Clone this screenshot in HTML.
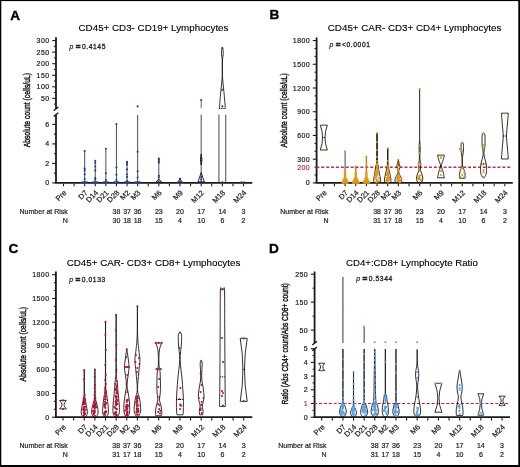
<!DOCTYPE html>
<html><head><meta charset="utf-8"><style>
html,body{margin:0;padding:0;background:#fff;}
body{width:520px;height:467px;overflow:hidden;position:relative;}
svg{position:absolute;left:0;top:0;display:block;will-change:transform;}
</style></head><body>
<svg width="520" height="467" viewBox="0 0 520 467" font-family='"Liberation Sans", sans-serif'>
<rect x="0" y="0" width="520" height="467" fill="#000"/>
<rect x="1.3" y="1.1" width="517.0" height="463.9" fill="#fff"/>
<text x="10.2" y="19.6" font-size="13.6" font-weight="bold" fill="#000" stroke="#000" stroke-width="0.35">A</text>
<text x="153.5" y="31.4" font-size="9.8" text-anchor="middle" fill="#000" stroke="#000" stroke-width="0.2" font-weight="normal" style="stroke-width:0.12px">CD45+ CD3- CD19+ Lymphocytes</text>
<text transform="translate(30.1,110.15) rotate(-90) scale(0.695,1)" font-size="9.8" text-anchor="middle" fill="#111" stroke="#111" stroke-width="0.42">Absolute count (cells/uL)</text>
<line x1="56" y1="37.2" x2="56" y2="108.8" stroke="#1a1a1a" stroke-width="1.8" />
<line x1="52.2" y1="98.35" x2="56" y2="98.35" stroke="#1a1a1a" stroke-width="1.1" />
<text x="49.6" y="100.85" font-size="7" text-anchor="end" fill="#222" stroke="#222" stroke-width="0.2" font-weight="normal" letter-spacing="0.45">50</text>
<line x1="52.2" y1="86.8" x2="56" y2="86.8" stroke="#1a1a1a" stroke-width="1.1" />
<text x="49.6" y="89.3" font-size="7" text-anchor="end" fill="#222" stroke="#222" stroke-width="0.2" font-weight="normal" letter-spacing="0.45">100</text>
<line x1="52.2" y1="75.25" x2="56" y2="75.25" stroke="#1a1a1a" stroke-width="1.1" />
<text x="49.6" y="77.75" font-size="7" text-anchor="end" fill="#222" stroke="#222" stroke-width="0.2" font-weight="normal" letter-spacing="0.45">150</text>
<line x1="52.2" y1="63.7" x2="56" y2="63.7" stroke="#1a1a1a" stroke-width="1.1" />
<text x="49.6" y="66.2" font-size="7" text-anchor="end" fill="#222" stroke="#222" stroke-width="0.2" font-weight="normal" letter-spacing="0.45">200</text>
<line x1="52.2" y1="52.15" x2="56" y2="52.15" stroke="#1a1a1a" stroke-width="1.1" />
<text x="49.6" y="54.65" font-size="7" text-anchor="end" fill="#222" stroke="#222" stroke-width="0.2" font-weight="normal" letter-spacing="0.45">250</text>
<line x1="52.2" y1="40.6" x2="56" y2="40.6" stroke="#1a1a1a" stroke-width="1.1" />
<text x="49.6" y="43.1" font-size="7" text-anchor="end" fill="#222" stroke="#222" stroke-width="0.2" font-weight="normal" letter-spacing="0.45">300</text>
<line x1="53.9" y1="104.12" x2="56" y2="104.12" stroke="#1a1a1a" stroke-width="1.05" />
<line x1="53.9" y1="92.58" x2="56" y2="92.58" stroke="#1a1a1a" stroke-width="1.05" />
<line x1="53.9" y1="81.03" x2="56" y2="81.03" stroke="#1a1a1a" stroke-width="1.05" />
<line x1="53.9" y1="69.47" x2="56" y2="69.47" stroke="#1a1a1a" stroke-width="1.05" />
<line x1="53.9" y1="57.92" x2="56" y2="57.92" stroke="#1a1a1a" stroke-width="1.05" />
<line x1="53.9" y1="46.38" x2="56" y2="46.38" stroke="#1a1a1a" stroke-width="1.05" />
<line x1="56" y1="114.7" x2="56" y2="182.9" stroke="#1a1a1a" stroke-width="1.8" />
<line x1="52.2" y1="182.9" x2="56" y2="182.9" stroke="#1a1a1a" stroke-width="1.1" />
<text x="49.6" y="185.4" font-size="7" text-anchor="end" fill="#222" stroke="#222" stroke-width="0.2" font-weight="normal" letter-spacing="0.45">0</text>
<line x1="52.2" y1="163.4" x2="56" y2="163.4" stroke="#1a1a1a" stroke-width="1.1" />
<text x="49.6" y="165.9" font-size="7" text-anchor="end" fill="#222" stroke="#222" stroke-width="0.2" font-weight="normal" letter-spacing="0.45">2</text>
<line x1="52.2" y1="143.9" x2="56" y2="143.9" stroke="#1a1a1a" stroke-width="1.1" />
<text x="49.6" y="146.4" font-size="7" text-anchor="end" fill="#222" stroke="#222" stroke-width="0.2" font-weight="normal" letter-spacing="0.45">4</text>
<line x1="52.2" y1="124.4" x2="56" y2="124.4" stroke="#1a1a1a" stroke-width="1.1" />
<text x="49.6" y="126.9" font-size="7" text-anchor="end" fill="#222" stroke="#222" stroke-width="0.2" font-weight="normal" letter-spacing="0.45">6</text>
<line x1="53.9" y1="173.15" x2="56" y2="173.15" stroke="#1a1a1a" stroke-width="1.05" />
<line x1="53.9" y1="153.65" x2="56" y2="153.65" stroke="#1a1a1a" stroke-width="1.05" />
<line x1="53.9" y1="134.15" x2="56" y2="134.15" stroke="#1a1a1a" stroke-width="1.05" />
<path d="M53.7,110.7 L58.3,106.9" stroke="#111" stroke-width="1.25"/>
<path d="M53.7,116.6 L58.3,112.8" stroke="#111" stroke-width="1.25"/>
<line x1="55.1" y1="182.9" x2="252.3" y2="182.9" stroke="#1a1a1a" stroke-width="1.8" />
<line x1="63.5" y1="183.7" x2="63.5" y2="186.3" stroke="#1a1a1a" stroke-width="1.1" />
<text transform="translate(66.9,193.2) rotate(-45)" font-size="7.5" text-anchor="end" fill="#222" stroke="#222" stroke-width="0.2" >Pre</text>
<line x1="74.09" y1="183.7" x2="74.09" y2="186.3" stroke="#1a1a1a" stroke-width="1.1" />
<line x1="84.68" y1="183.7" x2="84.68" y2="186.3" stroke="#1a1a1a" stroke-width="1.1" />
<text transform="translate(88.08,193.2) rotate(-45)" font-size="7.5" text-anchor="end" fill="#222" stroke="#222" stroke-width="0.2" >D7</text>
<line x1="95.27" y1="183.7" x2="95.27" y2="186.3" stroke="#1a1a1a" stroke-width="1.1" />
<text transform="translate(98.67,193.2) rotate(-45)" font-size="7.5" text-anchor="end" fill="#222" stroke="#222" stroke-width="0.2" >D14</text>
<line x1="105.86" y1="183.7" x2="105.86" y2="186.3" stroke="#1a1a1a" stroke-width="1.1" />
<text transform="translate(109.26,193.2) rotate(-45)" font-size="7.5" text-anchor="end" fill="#222" stroke="#222" stroke-width="0.2" >D21</text>
<line x1="116.45" y1="183.7" x2="116.45" y2="186.3" stroke="#1a1a1a" stroke-width="1.1" />
<text transform="translate(119.85,193.2) rotate(-45)" font-size="7.5" text-anchor="end" fill="#222" stroke="#222" stroke-width="0.2" >D28</text>
<line x1="127.04" y1="183.7" x2="127.04" y2="186.3" stroke="#1a1a1a" stroke-width="1.1" />
<text transform="translate(130.44,193.2) rotate(-45)" font-size="7.5" text-anchor="end" fill="#222" stroke="#222" stroke-width="0.2" >M2</text>
<line x1="137.63" y1="183.7" x2="137.63" y2="186.3" stroke="#1a1a1a" stroke-width="1.1" />
<text transform="translate(141.03,193.2) rotate(-45)" font-size="7.5" text-anchor="end" fill="#222" stroke="#222" stroke-width="0.2" >M3</text>
<line x1="148.22" y1="183.7" x2="148.22" y2="186.3" stroke="#1a1a1a" stroke-width="1.1" />
<line x1="158.81" y1="183.7" x2="158.81" y2="186.3" stroke="#1a1a1a" stroke-width="1.1" />
<text transform="translate(162.21,193.2) rotate(-45)" font-size="7.5" text-anchor="end" fill="#222" stroke="#222" stroke-width="0.2" >M6</text>
<line x1="169.4" y1="183.7" x2="169.4" y2="186.3" stroke="#1a1a1a" stroke-width="1.1" />
<line x1="179.99" y1="183.7" x2="179.99" y2="186.3" stroke="#1a1a1a" stroke-width="1.1" />
<text transform="translate(183.39,193.2) rotate(-45)" font-size="7.5" text-anchor="end" fill="#222" stroke="#222" stroke-width="0.2" >M9</text>
<line x1="190.58" y1="183.7" x2="190.58" y2="186.3" stroke="#1a1a1a" stroke-width="1.1" />
<line x1="201.17" y1="183.7" x2="201.17" y2="186.3" stroke="#1a1a1a" stroke-width="1.1" />
<text transform="translate(204.57,193.2) rotate(-45)" font-size="7.5" text-anchor="end" fill="#222" stroke="#222" stroke-width="0.2" >M12</text>
<line x1="211.76" y1="183.7" x2="211.76" y2="186.3" stroke="#1a1a1a" stroke-width="1.1" />
<line x1="222.35" y1="183.7" x2="222.35" y2="186.3" stroke="#1a1a1a" stroke-width="1.1" />
<text transform="translate(225.75,193.2) rotate(-45)" font-size="7.5" text-anchor="end" fill="#222" stroke="#222" stroke-width="0.2" >M18</text>
<line x1="232.94" y1="183.7" x2="232.94" y2="186.3" stroke="#1a1a1a" stroke-width="1.1" />
<line x1="243.53" y1="183.7" x2="243.53" y2="186.3" stroke="#1a1a1a" stroke-width="1.1" />
<text transform="translate(246.93,193.2) rotate(-45)" font-size="7.5" text-anchor="end" fill="#222" stroke="#222" stroke-width="0.2" >M24</text>
<text x="67.8" y="214.2" font-size="7" text-anchor="end" fill="#222" stroke="#222" stroke-width="0.2" font-weight="normal" >Number at Risk</text>
<text x="67.8" y="223.2" font-size="7" text-anchor="end" fill="#222" stroke="#222" stroke-width="0.2" font-weight="normal" >N</text>
<text x="116.45" y="214.2" font-size="7" text-anchor="middle" fill="#222" stroke="#222" stroke-width="0.2" font-weight="normal" >38</text>
<text x="116.45" y="223.2" font-size="7" text-anchor="middle" fill="#222" stroke="#222" stroke-width="0.2" font-weight="normal" >30</text>
<text x="127.04" y="214.2" font-size="7" text-anchor="middle" fill="#222" stroke="#222" stroke-width="0.2" font-weight="normal" >37</text>
<text x="127.04" y="223.2" font-size="7" text-anchor="middle" fill="#222" stroke="#222" stroke-width="0.2" font-weight="normal" >18</text>
<text x="137.63" y="214.2" font-size="7" text-anchor="middle" fill="#222" stroke="#222" stroke-width="0.2" font-weight="normal" >36</text>
<text x="137.63" y="223.2" font-size="7" text-anchor="middle" fill="#222" stroke="#222" stroke-width="0.2" font-weight="normal" >18</text>
<text x="158.81" y="214.2" font-size="7" text-anchor="middle" fill="#222" stroke="#222" stroke-width="0.2" font-weight="normal" >23</text>
<text x="158.81" y="223.2" font-size="7" text-anchor="middle" fill="#222" stroke="#222" stroke-width="0.2" font-weight="normal" >15</text>
<text x="179.99" y="214.2" font-size="7" text-anchor="middle" fill="#222" stroke="#222" stroke-width="0.2" font-weight="normal" >20</text>
<text x="179.99" y="223.2" font-size="7" text-anchor="middle" fill="#222" stroke="#222" stroke-width="0.2" font-weight="normal" >4</text>
<text x="201.17" y="214.2" font-size="7" text-anchor="middle" fill="#222" stroke="#222" stroke-width="0.2" font-weight="normal" >17</text>
<text x="201.17" y="223.2" font-size="7" text-anchor="middle" fill="#222" stroke="#222" stroke-width="0.2" font-weight="normal" >10</text>
<text x="222.35" y="214.2" font-size="7" text-anchor="middle" fill="#222" stroke="#222" stroke-width="0.2" font-weight="normal" >14</text>
<text x="222.35" y="223.2" font-size="7" text-anchor="middle" fill="#222" stroke="#222" stroke-width="0.2" font-weight="normal" >6</text>
<text x="243.53" y="214.2" font-size="7" text-anchor="middle" fill="#222" stroke="#222" stroke-width="0.2" font-weight="normal" >3</text>
<text x="243.53" y="223.2" font-size="7" text-anchor="middle" fill="#222" stroke="#222" stroke-width="0.2" font-weight="normal" >2</text>
<text x="69.4" y="49" font-size="6.8" fill="#222" stroke="#222" stroke-width="0.2"><tspan font-style="italic">p</tspan><tspan dx="2.6" font-size="8.2" stroke-width="0.75">=</tspan><tspan dx="1.3" font-size="6.7" letter-spacing="0.62" stroke-width="0.3">0.4145</tspan></text>
<line x1="84.68" y1="151.1" x2="84.68" y2="182.9" stroke="#444" stroke-width="0.95" />
<circle cx="84.68" cy="151.1" r="1.05" fill="#1d3f8f"/>
<circle cx="84.68" cy="168.5" r="1.05" fill="#1d3f8f"/>
<circle cx="84.68" cy="170.4" r="1.05" fill="#1d3f8f"/>
<circle cx="84.68" cy="174.2" r="1.05" fill="#1d3f8f"/>
<circle cx="84.68" cy="179" r="1.05" fill="#1d3f8f"/>
<circle cx="82.58" cy="182.3" r="1.05" fill="#1d3f8f"/>
<circle cx="83.98" cy="182.3" r="1.05" fill="#1d3f8f"/>
<circle cx="85.38" cy="182.3" r="1.05" fill="#1d3f8f"/>
<circle cx="86.78" cy="182.3" r="1.05" fill="#1d3f8f"/>
<line x1="95.27" y1="160.7" x2="95.27" y2="182.9" stroke="#444" stroke-width="0.95" />
<circle cx="95.27" cy="160.7" r="1.05" fill="#1d3f8f"/>
<circle cx="95.27" cy="162.7" r="1.05" fill="#1d3f8f"/>
<circle cx="95.27" cy="166.5" r="1.05" fill="#1d3f8f"/>
<circle cx="95.27" cy="170.4" r="1.05" fill="#1d3f8f"/>
<circle cx="95.27" cy="178.1" r="1.05" fill="#1d3f8f"/>
<circle cx="95.27" cy="179.4" r="1.05" fill="#1d3f8f"/>
<circle cx="93.17" cy="182.3" r="1.05" fill="#1d3f8f"/>
<circle cx="94.57" cy="182.3" r="1.05" fill="#1d3f8f"/>
<circle cx="95.97" cy="182.3" r="1.05" fill="#1d3f8f"/>
<circle cx="97.37" cy="182.3" r="1.05" fill="#1d3f8f"/>
<line x1="105.86" y1="148.8" x2="105.86" y2="182.9" stroke="#444" stroke-width="0.95" />
<circle cx="105.86" cy="148.8" r="1.05" fill="#1d3f8f"/>
<circle cx="105.86" cy="173.3" r="1.05" fill="#1d3f8f"/>
<circle cx="105.86" cy="180" r="1.05" fill="#1d3f8f"/>
<circle cx="103.76" cy="182.3" r="1.05" fill="#1d3f8f"/>
<circle cx="105.16" cy="182.3" r="1.05" fill="#1d3f8f"/>
<circle cx="106.56" cy="182.3" r="1.05" fill="#1d3f8f"/>
<circle cx="107.96" cy="182.3" r="1.05" fill="#1d3f8f"/>
<line x1="116.45" y1="124.1" x2="116.45" y2="182.9" stroke="#444" stroke-width="0.95" />
<circle cx="116.45" cy="124.1" r="1.05" fill="#1d3f8f"/>
<circle cx="116.45" cy="167.5" r="1.05" fill="#1d3f8f"/>
<circle cx="116.45" cy="174.8" r="1.05" fill="#1d3f8f"/>
<circle cx="116.45" cy="180" r="1.05" fill="#1d3f8f"/>
<circle cx="114.35" cy="182.3" r="1.05" fill="#1d3f8f"/>
<circle cx="115.75" cy="182.3" r="1.05" fill="#1d3f8f"/>
<circle cx="117.15" cy="182.3" r="1.05" fill="#1d3f8f"/>
<circle cx="118.55" cy="182.3" r="1.05" fill="#1d3f8f"/>
<line x1="127.04" y1="161.7" x2="127.04" y2="182.9" stroke="#444" stroke-width="0.95" />
<circle cx="127.04" cy="161.7" r="1.05" fill="#1d3f8f"/>
<circle cx="127.04" cy="162.7" r="1.05" fill="#1d3f8f"/>
<circle cx="127.04" cy="164.6" r="1.05" fill="#1d3f8f"/>
<circle cx="127.04" cy="169.4" r="1.05" fill="#1d3f8f"/>
<circle cx="127.04" cy="174.2" r="1.05" fill="#1d3f8f"/>
<circle cx="127.04" cy="177.1" r="1.05" fill="#1d3f8f"/>
<circle cx="127.04" cy="181" r="1.05" fill="#1d3f8f"/>
<circle cx="124.94" cy="182.3" r="1.05" fill="#1d3f8f"/>
<circle cx="126.34" cy="182.3" r="1.05" fill="#1d3f8f"/>
<circle cx="127.74" cy="182.3" r="1.05" fill="#1d3f8f"/>
<circle cx="129.14" cy="182.3" r="1.05" fill="#1d3f8f"/>
<line x1="137.63" y1="115" x2="137.63" y2="182.9" stroke="#444" stroke-width="0.95" />
<circle cx="137.63" cy="151.7" r="1.05" fill="#1d3f8f"/>
<circle cx="137.63" cy="171.3" r="1.05" fill="#1d3f8f"/>
<circle cx="137.63" cy="177.5" r="1.05" fill="#1d3f8f"/>
<circle cx="135.53" cy="182.3" r="1.05" fill="#1d3f8f"/>
<circle cx="136.93" cy="182.3" r="1.05" fill="#1d3f8f"/>
<circle cx="138.33" cy="182.3" r="1.05" fill="#1d3f8f"/>
<circle cx="139.73" cy="182.3" r="1.05" fill="#1d3f8f"/>
<line x1="137.63" y1="106.2" x2="137.63" y2="107.5" stroke="#555" stroke-width="0.9" />
<circle cx="137.63" cy="106.2" r="1.05" fill="#1d3f8f"/>
<line x1="158.81" y1="158.5" x2="158.81" y2="182.9" stroke="#444" stroke-width="0.95" />
<circle cx="158.81" cy="158.5" r="1.05" fill="#1d3f8f"/>
<circle cx="158.81" cy="159.8" r="1.05" fill="#1d3f8f"/>
<circle cx="158.81" cy="161.2" r="1.05" fill="#1d3f8f"/>
<circle cx="158.81" cy="162.6" r="1.05" fill="#1d3f8f"/>
<circle cx="158.81" cy="175.8" r="1.05" fill="#1d3f8f"/>
<circle cx="158.81" cy="177.3" r="1.05" fill="#1d3f8f"/>
<circle cx="156.71" cy="182.3" r="1.05" fill="#1d3f8f"/>
<circle cx="158.11" cy="182.3" r="1.05" fill="#1d3f8f"/>
<circle cx="159.51" cy="182.3" r="1.05" fill="#1d3f8f"/>
<circle cx="160.91" cy="182.3" r="1.05" fill="#1d3f8f"/>
<path d="M158.81,179 L162.01,182.6 L155.61,182.6 Z" fill="none" stroke="#1a1a1a" stroke-width="0.9" stroke-linejoin="round"/>
<line x1="179.99" y1="178.7" x2="179.99" y2="182.9" stroke="#444" stroke-width="0.95" />
<circle cx="179.99" cy="178.7" r="1.05" fill="#1d3f8f"/>
<circle cx="177.89" cy="182.3" r="1.05" fill="#1d3f8f"/>
<circle cx="179.29" cy="182.3" r="1.05" fill="#1d3f8f"/>
<circle cx="180.69" cy="182.3" r="1.05" fill="#1d3f8f"/>
<circle cx="182.09" cy="182.3" r="1.05" fill="#1d3f8f"/>
<path d="M179.99,178.5 L181.39,180.8 L179.99,182.9 L178.59,180.8 Z" fill="none" stroke="#1a1a1a" stroke-width="0.8"/>
<line x1="201.17" y1="100" x2="201.17" y2="108.3" stroke="#555" stroke-width="0.9" />
<circle cx="201.17" cy="100" r="1.05" fill="#1d3f8f"/>
<line x1="201.17" y1="114.5" x2="201.17" y2="182.9" stroke="#444" stroke-width="0.95" />
<circle cx="201.17" cy="158" r="1.05" fill="#1d3f8f"/>
<circle cx="201.17" cy="160.5" r="1.05" fill="#1d3f8f"/>
<circle cx="199.07" cy="182.3" r="1.05" fill="#1d3f8f"/>
<circle cx="200.47" cy="182.3" r="1.05" fill="#1d3f8f"/>
<circle cx="201.87" cy="182.3" r="1.05" fill="#1d3f8f"/>
<circle cx="203.27" cy="182.3" r="1.05" fill="#1d3f8f"/>
<path d="M201.22,154 C201.33,154.97 201.87,157.97 201.87,159.8 C201.87,161.63 201.33,164.13 201.22,165 L201.12,165 C201.01,164.13 200.47,161.63 200.47,159.8 C200.47,157.97 201.01,154.97 201.12,154 Z" fill="none" stroke="#1a1a1a" stroke-width="0.9"/>
<path d="M201.17,172.5 L204.47,182.4 L197.87,182.4 Z" fill="none" stroke="#1a1a1a" stroke-width="0.9" stroke-linejoin="round"/>
<circle cx="201.17" cy="177" r="1.05" fill="#1d3f8f"/>
<circle cx="201.17" cy="179.5" r="1.05" fill="#1d3f8f"/>
<path d="M222.4,47.5 C222.51,47.83 222.92,48.25 223.05,49.5 C223.17,50.75 223.26,53.08 223.15,55 C223.04,56.92 222.53,57.5 222.4,61 C222.28,64.5 222.14,70.83 222.4,76 C222.66,81.17 223.46,86.58 223.95,92 C224.44,97.42 225.12,105.75 225.35,108.5 L219.35,108.5 C219.58,105.75 220.26,97.42 220.75,92 C221.24,86.58 222.04,81.17 222.3,76 C222.56,70.83 222.42,64.5 222.3,61 C222.17,57.5 221.66,56.92 221.55,55 C221.44,53.08 221.53,50.75 221.65,49.5 C221.78,48.25 222.19,47.83 222.3,47.5 Z" fill="none" stroke="#1a1a1a" stroke-width="0.9"/>
<line x1="219.05" y1="108.5" x2="225.65" y2="108.5" stroke="#fff" stroke-width="1.2" />
<line x1="218.95" y1="108.5" x2="225.75" y2="108.5" stroke="#000" stroke-width="1.0" stroke-dasharray="1,0.8"/>
<circle cx="222.35" cy="48" r="1.05" fill="#1d3f8f"/>
<circle cx="222.35" cy="89.7" r="1.05" fill="#1d3f8f"/>
<circle cx="222.35" cy="106.4" r="1.05" fill="#1d3f8f"/>
<line x1="218.95" y1="114.5" x2="218.95" y2="182.9" stroke="#333" stroke-width="0.9" />
<line x1="225.75" y1="114.5" x2="225.75" y2="182.9" stroke="#333" stroke-width="0.9" />
<circle cx="222.35" cy="182.3" r="1.05" fill="#1d3f8f"/>
<circle cx="241.3" cy="182.4" r="1.05" fill="#1d3f8f"/>
<circle cx="244.2" cy="182.4" r="1.05" fill="#1d3f8f"/>
<text x="269.4" y="19.4" font-size="13.6" font-weight="bold" fill="#000" stroke="#000" stroke-width="0.35">B</text>
<text x="414.6" y="31.4" font-size="9.8" text-anchor="middle" fill="#000" stroke="#000" stroke-width="0.2" font-weight="normal" style="stroke-width:0.12px">CD45+ CAR- CD3+ CD4+ Lymphocytes</text>
<text transform="translate(287,110.35) rotate(-90) scale(0.695,1)" font-size="9.8" text-anchor="middle" fill="#111" stroke="#111" stroke-width="0.42">Absolute count (cells/uL)</text>
<line x1="316.6" y1="37.5" x2="316.6" y2="182.9" stroke="#1a1a1a" stroke-width="1.8" />
<line x1="312.8" y1="182.9" x2="316.6" y2="182.9" stroke="#1a1a1a" stroke-width="1.1" />
<text x="310.2" y="185.4" font-size="7" text-anchor="end" fill="#222" stroke="#222" stroke-width="0.2" font-weight="normal" letter-spacing="0.45">0</text>
<line x1="312.8" y1="159.18" x2="316.6" y2="159.18" stroke="#1a1a1a" stroke-width="1.1" />
<text x="310.2" y="161.68" font-size="7" text-anchor="end" fill="#222" stroke="#222" stroke-width="0.2" font-weight="normal" letter-spacing="0.45">300</text>
<line x1="312.8" y1="135.45" x2="316.6" y2="135.45" stroke="#1a1a1a" stroke-width="1.1" />
<text x="310.2" y="137.95" font-size="7" text-anchor="end" fill="#222" stroke="#222" stroke-width="0.2" font-weight="normal" letter-spacing="0.45">600</text>
<line x1="312.8" y1="111.73" x2="316.6" y2="111.73" stroke="#1a1a1a" stroke-width="1.1" />
<text x="310.2" y="114.23" font-size="7" text-anchor="end" fill="#222" stroke="#222" stroke-width="0.2" font-weight="normal" letter-spacing="0.45">900</text>
<line x1="312.8" y1="88" x2="316.6" y2="88" stroke="#1a1a1a" stroke-width="1.1" />
<text x="310.2" y="90.5" font-size="7" text-anchor="end" fill="#222" stroke="#222" stroke-width="0.2" font-weight="normal" letter-spacing="0.45">1200</text>
<line x1="312.8" y1="64.28" x2="316.6" y2="64.28" stroke="#1a1a1a" stroke-width="1.1" />
<text x="310.2" y="66.78" font-size="7" text-anchor="end" fill="#222" stroke="#222" stroke-width="0.2" font-weight="normal" letter-spacing="0.45">1500</text>
<line x1="312.8" y1="40.56" x2="316.6" y2="40.56" stroke="#1a1a1a" stroke-width="1.1" />
<text x="310.2" y="43.06" font-size="7" text-anchor="end" fill="#222" stroke="#222" stroke-width="0.2" font-weight="normal" letter-spacing="0.45">1800</text>
<line x1="314.5" y1="174.99" x2="316.6" y2="174.99" stroke="#1a1a1a" stroke-width="1.05" />
<line x1="314.5" y1="167.08" x2="316.6" y2="167.08" stroke="#1a1a1a" stroke-width="1.05" />
<line x1="314.5" y1="151.27" x2="316.6" y2="151.27" stroke="#1a1a1a" stroke-width="1.05" />
<line x1="314.5" y1="143.36" x2="316.6" y2="143.36" stroke="#1a1a1a" stroke-width="1.05" />
<line x1="314.5" y1="127.54" x2="316.6" y2="127.54" stroke="#1a1a1a" stroke-width="1.05" />
<line x1="314.5" y1="119.64" x2="316.6" y2="119.64" stroke="#1a1a1a" stroke-width="1.05" />
<line x1="314.5" y1="103.82" x2="316.6" y2="103.82" stroke="#1a1a1a" stroke-width="1.05" />
<line x1="314.5" y1="95.91" x2="316.6" y2="95.91" stroke="#1a1a1a" stroke-width="1.05" />
<line x1="314.5" y1="80.1" x2="316.6" y2="80.1" stroke="#1a1a1a" stroke-width="1.05" />
<line x1="314.5" y1="72.19" x2="316.6" y2="72.19" stroke="#1a1a1a" stroke-width="1.05" />
<line x1="314.5" y1="56.37" x2="316.6" y2="56.37" stroke="#1a1a1a" stroke-width="1.05" />
<line x1="314.5" y1="48.46" x2="316.6" y2="48.46" stroke="#1a1a1a" stroke-width="1.05" />
<text x="310.2" y="169.58" font-size="7" text-anchor="end" fill="#c3304f" stroke="#c3304f" stroke-width="0.2" font-weight="normal" letter-spacing="0.45">200</text>
<line x1="315.7" y1="182.9" x2="512.8" y2="182.9" stroke="#1a1a1a" stroke-width="1.8" />
<line x1="323.8" y1="183.7" x2="323.8" y2="186.3" stroke="#1a1a1a" stroke-width="1.1" />
<text transform="translate(327.2,193.2) rotate(-45)" font-size="7.5" text-anchor="end" fill="#222" stroke="#222" stroke-width="0.2" >Pre</text>
<line x1="334.45" y1="183.7" x2="334.45" y2="186.3" stroke="#1a1a1a" stroke-width="1.1" />
<line x1="345.1" y1="183.7" x2="345.1" y2="186.3" stroke="#1a1a1a" stroke-width="1.1" />
<text transform="translate(348.5,193.2) rotate(-45)" font-size="7.5" text-anchor="end" fill="#222" stroke="#222" stroke-width="0.2" >D7</text>
<line x1="355.75" y1="183.7" x2="355.75" y2="186.3" stroke="#1a1a1a" stroke-width="1.1" />
<text transform="translate(359.15,193.2) rotate(-45)" font-size="7.5" text-anchor="end" fill="#222" stroke="#222" stroke-width="0.2" >D14</text>
<line x1="366.4" y1="183.7" x2="366.4" y2="186.3" stroke="#1a1a1a" stroke-width="1.1" />
<text transform="translate(369.8,193.2) rotate(-45)" font-size="7.5" text-anchor="end" fill="#222" stroke="#222" stroke-width="0.2" >D21</text>
<line x1="377.05" y1="183.7" x2="377.05" y2="186.3" stroke="#1a1a1a" stroke-width="1.1" />
<text transform="translate(380.45,193.2) rotate(-45)" font-size="7.5" text-anchor="end" fill="#222" stroke="#222" stroke-width="0.2" >D28</text>
<line x1="387.7" y1="183.7" x2="387.7" y2="186.3" stroke="#1a1a1a" stroke-width="1.1" />
<text transform="translate(391.1,193.2) rotate(-45)" font-size="7.5" text-anchor="end" fill="#222" stroke="#222" stroke-width="0.2" >M2</text>
<line x1="398.35" y1="183.7" x2="398.35" y2="186.3" stroke="#1a1a1a" stroke-width="1.1" />
<text transform="translate(401.75,193.2) rotate(-45)" font-size="7.5" text-anchor="end" fill="#222" stroke="#222" stroke-width="0.2" >M3</text>
<line x1="409" y1="183.7" x2="409" y2="186.3" stroke="#1a1a1a" stroke-width="1.1" />
<line x1="419.65" y1="183.7" x2="419.65" y2="186.3" stroke="#1a1a1a" stroke-width="1.1" />
<text transform="translate(423.05,193.2) rotate(-45)" font-size="7.5" text-anchor="end" fill="#222" stroke="#222" stroke-width="0.2" >M6</text>
<line x1="430.3" y1="183.7" x2="430.3" y2="186.3" stroke="#1a1a1a" stroke-width="1.1" />
<line x1="440.95" y1="183.7" x2="440.95" y2="186.3" stroke="#1a1a1a" stroke-width="1.1" />
<text transform="translate(444.35,193.2) rotate(-45)" font-size="7.5" text-anchor="end" fill="#222" stroke="#222" stroke-width="0.2" >M9</text>
<line x1="451.6" y1="183.7" x2="451.6" y2="186.3" stroke="#1a1a1a" stroke-width="1.1" />
<line x1="462.25" y1="183.7" x2="462.25" y2="186.3" stroke="#1a1a1a" stroke-width="1.1" />
<text transform="translate(465.65,193.2) rotate(-45)" font-size="7.5" text-anchor="end" fill="#222" stroke="#222" stroke-width="0.2" >M12</text>
<line x1="472.9" y1="183.7" x2="472.9" y2="186.3" stroke="#1a1a1a" stroke-width="1.1" />
<line x1="483.55" y1="183.7" x2="483.55" y2="186.3" stroke="#1a1a1a" stroke-width="1.1" />
<text transform="translate(486.95,193.2) rotate(-45)" font-size="7.5" text-anchor="end" fill="#222" stroke="#222" stroke-width="0.2" >M18</text>
<line x1="494.2" y1="183.7" x2="494.2" y2="186.3" stroke="#1a1a1a" stroke-width="1.1" />
<line x1="504.85" y1="183.7" x2="504.85" y2="186.3" stroke="#1a1a1a" stroke-width="1.1" />
<text transform="translate(508.25,193.2) rotate(-45)" font-size="7.5" text-anchor="end" fill="#222" stroke="#222" stroke-width="0.2" >M24</text>
<text x="328.5" y="214.2" font-size="7" text-anchor="end" fill="#222" stroke="#222" stroke-width="0.2" font-weight="normal" >Number at Risk</text>
<text x="328.5" y="223.2" font-size="7" text-anchor="end" fill="#222" stroke="#222" stroke-width="0.2" font-weight="normal" >N</text>
<text x="377.05" y="214.2" font-size="7" text-anchor="middle" fill="#222" stroke="#222" stroke-width="0.2" font-weight="normal" >38</text>
<text x="377.05" y="223.2" font-size="7" text-anchor="middle" fill="#222" stroke="#222" stroke-width="0.2" font-weight="normal" >31</text>
<text x="387.7" y="214.2" font-size="7" text-anchor="middle" fill="#222" stroke="#222" stroke-width="0.2" font-weight="normal" >37</text>
<text x="387.7" y="223.2" font-size="7" text-anchor="middle" fill="#222" stroke="#222" stroke-width="0.2" font-weight="normal" >17</text>
<text x="398.35" y="214.2" font-size="7" text-anchor="middle" fill="#222" stroke="#222" stroke-width="0.2" font-weight="normal" >36</text>
<text x="398.35" y="223.2" font-size="7" text-anchor="middle" fill="#222" stroke="#222" stroke-width="0.2" font-weight="normal" >18</text>
<text x="419.65" y="214.2" font-size="7" text-anchor="middle" fill="#222" stroke="#222" stroke-width="0.2" font-weight="normal" >23</text>
<text x="419.65" y="223.2" font-size="7" text-anchor="middle" fill="#222" stroke="#222" stroke-width="0.2" font-weight="normal" >15</text>
<text x="440.95" y="214.2" font-size="7" text-anchor="middle" fill="#222" stroke="#222" stroke-width="0.2" font-weight="normal" >20</text>
<text x="440.95" y="223.2" font-size="7" text-anchor="middle" fill="#222" stroke="#222" stroke-width="0.2" font-weight="normal" >4</text>
<text x="462.25" y="214.2" font-size="7" text-anchor="middle" fill="#222" stroke="#222" stroke-width="0.2" font-weight="normal" >17</text>
<text x="462.25" y="223.2" font-size="7" text-anchor="middle" fill="#222" stroke="#222" stroke-width="0.2" font-weight="normal" >10</text>
<text x="483.55" y="214.2" font-size="7" text-anchor="middle" fill="#222" stroke="#222" stroke-width="0.2" font-weight="normal" >14</text>
<text x="483.55" y="223.2" font-size="7" text-anchor="middle" fill="#222" stroke="#222" stroke-width="0.2" font-weight="normal" >6</text>
<text x="504.85" y="214.2" font-size="7" text-anchor="middle" fill="#222" stroke="#222" stroke-width="0.2" font-weight="normal" >3</text>
<text x="504.85" y="223.2" font-size="7" text-anchor="middle" fill="#222" stroke="#222" stroke-width="0.2" font-weight="normal" >2</text>
<line x1="316.36" y1="167.2" x2="512" y2="167.2" stroke="#c42a4c" stroke-width="1.35" stroke-dasharray="3,1.895"/>
<text x="329.4" y="47.1" font-size="6.8" fill="#222" stroke="#222" stroke-width="0.2"><tspan font-style="italic">p</tspan><tspan dx="2.6" font-size="8.2" stroke-width="0.75">=</tspan><tspan dx="1.3" font-size="6.7" letter-spacing="0.62" stroke-width="0.3">&lt;0.0001</tspan></text>
<path d="M320.3,125.2 L327.3,125.2 Q322.7,137.6 327.3,150 L320.3,150 Q324.9,137.6 320.3,125.2 Z" fill="none" stroke="#1a1a1a" stroke-width="0.9" stroke-linejoin="round"/>
<circle cx="323.8" cy="125.3" r="1.05" fill="#e6950f"/>
<circle cx="323.8" cy="149.7" r="1.05" fill="#e6950f"/>
<line x1="322.4" y1="137.5" x2="325.2" y2="137.5" stroke="#000" stroke-width="1.0" stroke-dasharray="1,0.8"/>
<line x1="345.1" y1="151.3" x2="345.1" y2="182.9" stroke="#333" stroke-width="0.9" />
<path d="M345.9,171 C345.93,171.98 345.97,175.67 346.1,176.9 C346.23,178.13 346.43,177.82 346.7,178.4 C346.97,178.98 347.43,179.75 347.7,180.4 C347.97,181.05 348.23,181.8 348.3,182.3 C348.37,182.8 348.16,183.22 348.13,183.4 L342.07,183.4 C342.04,183.22 341.83,182.8 341.9,182.3 C341.97,181.8 342.23,181.05 342.5,180.4 C342.77,179.75 343.23,178.98 343.5,178.4 C343.77,177.82 343.97,178.13 344.1,176.9 C344.23,175.67 344.27,171.98 344.3,171 Z" fill="#e6950f" stroke="#e6950f" stroke-width="0.6"/>
<circle cx="345.1" cy="151.3" r="1.05" fill="#e6950f"/>
<circle cx="345.1" cy="173" r="1.05" fill="#e6950f"/>
<line x1="355.75" y1="166.5" x2="355.75" y2="182.9" stroke="#333" stroke-width="0.9" />
<path d="M356.55,172 C356.58,172.82 356.62,175.83 356.75,176.9 C356.88,177.97 357.08,177.82 357.35,178.4 C357.62,178.98 358.02,179.75 358.35,180.4 C358.68,181.05 359.22,181.8 359.35,182.3 C359.49,182.8 359.19,183.22 359.16,183.4 L352.34,183.4 C352.31,183.22 352.01,182.8 352.15,182.3 C352.28,181.8 352.82,181.05 353.15,180.4 C353.48,179.75 353.88,178.98 354.15,178.4 C354.42,177.82 354.62,177.97 354.75,176.9 C354.88,175.83 354.92,172.82 354.95,172 Z" fill="#e6950f" stroke="#e6950f" stroke-width="0.6"/>
<circle cx="355.75" cy="166.5" r="1.05" fill="#e6950f"/>
<circle cx="355.75" cy="169" r="1.05" fill="#e6950f"/>
<line x1="366.4" y1="156.9" x2="366.4" y2="182.9" stroke="#333" stroke-width="0.9" />
<path d="M367.2,172 C367.23,172.82 367.27,175.83 367.4,176.9 C367.53,177.97 367.73,177.82 368,178.4 C368.27,178.98 368.7,179.75 369,180.4 C369.3,181.05 369.7,181.8 369.8,182.3 C369.9,182.8 369.65,183.22 369.62,183.4 L363.18,183.4 C363.15,183.22 362.9,182.8 363,182.3 C363.1,181.8 363.5,181.05 363.8,180.4 C364.1,179.75 364.53,178.98 364.8,178.4 C365.07,177.82 365.27,177.97 365.4,176.9 C365.53,175.83 365.57,172.82 365.6,172 Z" fill="#e6950f" stroke="#e6950f" stroke-width="0.6"/>
<circle cx="366.4" cy="156.9" r="1.05" fill="#e6950f"/>
<circle cx="366.4" cy="160" r="1.05" fill="#e6950f"/>
<circle cx="366.4" cy="163" r="1.05" fill="#e6950f"/>
<circle cx="366.4" cy="165" r="1.05" fill="#e6950f"/>
<circle cx="366.4" cy="168" r="1.05" fill="#e6950f"/>
<circle cx="366.4" cy="171" r="1.05" fill="#e6950f"/>
<line x1="377.05" y1="133.1" x2="377.05" y2="162" stroke="#222" stroke-width="1.0" />
<path d="M377.1,133.1 C377.14,137.58 377.16,154.52 377.35,160 C377.54,165.48 377.93,163.83 378.25,166 C378.57,168.17 378.88,170.83 379.25,173 C379.62,175.17 380.28,177.42 380.45,179 C380.62,180.58 380.28,181.92 380.25,182.5 L373.85,182.5 C373.82,181.92 373.48,180.58 373.65,179 C373.82,177.42 374.48,175.17 374.85,173 C375.22,170.83 375.53,168.17 375.85,166 C376.17,163.83 376.56,165.48 376.75,160 C376.94,154.52 376.96,137.58 377,133.1 Z" fill="none" stroke="#1a1a1a" stroke-width="0.9"/>
<circle cx="377.05" cy="133.1" r="1.05" fill="#e6950f"/>
<circle cx="377.05" cy="142" r="1.05" fill="#e6950f"/>
<circle cx="377.05" cy="150" r="1.05" fill="#e6950f"/>
<circle cx="377.05" cy="157" r="1.05" fill="#e6950f"/>
<circle cx="377.05" cy="161" r="1.05" fill="#e6950f"/>
<circle cx="377.05" cy="164" r="1.05" fill="#e6950f"/>
<circle cx="377.05" cy="167" r="1.05" fill="#e6950f"/>
<circle cx="376.72" cy="175.78" r="1.05" fill="#e6950f"/>
<circle cx="375.89" cy="177.8" r="1.05" fill="#e6950f"/>
<circle cx="379.23" cy="181.32" r="1.05" fill="#e6950f"/>
<circle cx="377" cy="173.11" r="1.05" fill="#e6950f"/>
<circle cx="376.68" cy="165.23" r="1.05" fill="#e6950f"/>
<circle cx="378.86" cy="178.25" r="1.05" fill="#e6950f"/>
<circle cx="375.11" cy="175.68" r="1.05" fill="#e6950f"/>
<circle cx="377.17" cy="168.62" r="1.05" fill="#e6950f"/>
<circle cx="375.6" cy="174.33" r="1.05" fill="#e6950f"/>
<circle cx="377.6" cy="180.46" r="1.05" fill="#e6950f"/>
<circle cx="376.77" cy="167.52" r="1.05" fill="#e6950f"/>
<circle cx="377.52" cy="170.85" r="1.05" fill="#e6950f"/>
<circle cx="377.92" cy="170.46" r="1.05" fill="#e6950f"/>
<circle cx="376.79" cy="181.87" r="1.05" fill="#e6950f"/>
<circle cx="376.99" cy="171.33" r="1.05" fill="#e6950f"/>
<circle cx="377.02" cy="181.08" r="1.05" fill="#e6950f"/>
<circle cx="374.45" cy="178.79" r="1.05" fill="#e6950f"/>
<circle cx="376.81" cy="166.58" r="1.05" fill="#e6950f"/>
<circle cx="377.33" cy="174.43" r="1.05" fill="#e6950f"/>
<circle cx="376.82" cy="166.35" r="1.05" fill="#e6950f"/>
<circle cx="377.48" cy="167.79" r="1.05" fill="#e6950f"/>
<circle cx="376.69" cy="172.02" r="1.05" fill="#e6950f"/>
<circle cx="375.6" cy="172.88" r="1.05" fill="#e6950f"/>
<circle cx="376.42" cy="179.5" r="1.05" fill="#e6950f"/>
<circle cx="376.3" cy="175.91" r="1.05" fill="#e6950f"/>
<circle cx="377.24" cy="170.1" r="1.05" fill="#e6950f"/>
<circle cx="376.39" cy="181.88" r="1.05" fill="#e6950f"/>
<circle cx="377.5" cy="173.29" r="1.05" fill="#e6950f"/>
<circle cx="377.49" cy="181.6" r="1.05" fill="#e6950f"/>
<circle cx="376.98" cy="166.54" r="1.05" fill="#e6950f"/>
<line x1="387.7" y1="148.2" x2="387.7" y2="166" stroke="#222" stroke-width="1.0" />
<path d="M387.75,148.2 C387.78,150.83 387.73,160.53 387.9,164 C388.08,167.47 388.47,167.33 388.8,169 C389.13,170.67 389.55,172.33 389.9,174 C390.25,175.67 390.77,177.58 390.9,179 C391.03,180.42 390.73,181.92 390.7,182.5 L384.7,182.5 C384.67,181.92 384.37,180.42 384.5,179 C384.63,177.58 385.15,175.67 385.5,174 C385.85,172.33 386.27,170.67 386.6,169 C386.93,167.33 387.33,167.47 387.5,164 C387.68,160.53 387.63,150.83 387.65,148.2 Z" fill="none" stroke="#1a1a1a" stroke-width="0.9"/>
<circle cx="387.7" cy="148.2" r="1.05" fill="#e6950f"/>
<circle cx="387.7" cy="160.7" r="1.05" fill="#e6950f"/>
<circle cx="387.7" cy="165.7" r="1.05" fill="#e6950f"/>
<circle cx="387.7" cy="168" r="1.05" fill="#e6950f"/>
<circle cx="388.3" cy="179.55" r="1.05" fill="#e6950f"/>
<circle cx="386.93" cy="175.25" r="1.05" fill="#e6950f"/>
<circle cx="387.32" cy="178.71" r="1.05" fill="#e6950f"/>
<circle cx="388.33" cy="171.57" r="1.05" fill="#e6950f"/>
<circle cx="389.05" cy="179.68" r="1.05" fill="#e6950f"/>
<circle cx="387.43" cy="179.7" r="1.05" fill="#e6950f"/>
<circle cx="388.57" cy="177.44" r="1.05" fill="#e6950f"/>
<circle cx="387.56" cy="181.1" r="1.05" fill="#e6950f"/>
<circle cx="386.81" cy="179.71" r="1.05" fill="#e6950f"/>
<circle cx="388.85" cy="177" r="1.05" fill="#e6950f"/>
<circle cx="386.28" cy="180.71" r="1.05" fill="#e6950f"/>
<circle cx="388.22" cy="173.15" r="1.05" fill="#e6950f"/>
<circle cx="389.65" cy="178.29" r="1.05" fill="#e6950f"/>
<circle cx="387.67" cy="177.25" r="1.05" fill="#e6950f"/>
<circle cx="387.96" cy="169.72" r="1.05" fill="#e6950f"/>
<circle cx="387.92" cy="182.05" r="1.05" fill="#e6950f"/>
<circle cx="386.75" cy="177.91" r="1.05" fill="#e6950f"/>
<circle cx="387.07" cy="179.59" r="1.05" fill="#e6950f"/>
<circle cx="388.56" cy="174.44" r="1.05" fill="#e6950f"/>
<circle cx="388" cy="175.49" r="1.05" fill="#e6950f"/>
<circle cx="386.91" cy="173.8" r="1.05" fill="#e6950f"/>
<circle cx="388.06" cy="172.39" r="1.05" fill="#e6950f"/>
<circle cx="388.17" cy="172.56" r="1.05" fill="#e6950f"/>
<circle cx="388.52" cy="174.02" r="1.05" fill="#e6950f"/>
<line x1="398.35" y1="159.8" x2="398.35" y2="166" stroke="#222" stroke-width="1.0" />
<path d="M398.4,159.8 C398.49,160.33 398.69,161.87 398.95,163 C399.21,164.13 399.92,165.52 399.95,166.6 C399.98,167.68 399.35,168.5 399.15,169.5 C398.95,170.5 398.48,171.35 398.75,172.6 C399.02,173.85 400.25,175.77 400.75,177 C401.25,178.23 401.62,179.08 401.75,180 C401.88,180.92 401.58,182.08 401.55,182.5 L395.15,182.5 C395.12,182.08 394.82,180.92 394.95,180 C395.08,179.08 395.45,178.23 395.95,177 C396.45,175.77 397.68,173.85 397.95,172.6 C398.22,171.35 397.75,170.5 397.55,169.5 C397.35,168.5 396.72,167.68 396.75,166.6 C396.78,165.52 397.49,164.13 397.75,163 C398.01,161.87 398.21,160.33 398.3,159.8 Z" fill="none" stroke="#1a1a1a" stroke-width="0.9"/>
<circle cx="398.35" cy="159.8" r="1.05" fill="#e6950f"/>
<circle cx="399.15" cy="163" r="1.05" fill="#e6950f"/>
<circle cx="397.55" cy="165" r="1.05" fill="#e6950f"/>
<circle cx="399.15" cy="167" r="1.05" fill="#e6950f"/>
<circle cx="397.85" cy="169" r="1.05" fill="#e6950f"/>
<circle cx="398.35" cy="171" r="1.05" fill="#e6950f"/>
<circle cx="399.52" cy="177.36" r="1.05" fill="#e6950f"/>
<circle cx="397.21" cy="178.91" r="1.05" fill="#e6950f"/>
<circle cx="398.33" cy="175.27" r="1.05" fill="#e6950f"/>
<circle cx="398.12" cy="178.1" r="1.05" fill="#e6950f"/>
<circle cx="398.85" cy="179.58" r="1.05" fill="#e6950f"/>
<circle cx="399.9" cy="182.13" r="1.05" fill="#e6950f"/>
<circle cx="397.6" cy="176.05" r="1.05" fill="#e6950f"/>
<circle cx="398.77" cy="176.32" r="1.05" fill="#e6950f"/>
<circle cx="397.97" cy="179" r="1.05" fill="#e6950f"/>
<circle cx="397.57" cy="179.97" r="1.05" fill="#e6950f"/>
<circle cx="398.57" cy="178.31" r="1.05" fill="#e6950f"/>
<circle cx="397.72" cy="176.78" r="1.05" fill="#e6950f"/>
<circle cx="400.83" cy="180.32" r="1.05" fill="#e6950f"/>
<circle cx="397.59" cy="178.05" r="1.05" fill="#e6950f"/>
<circle cx="399.95" cy="180.58" r="1.05" fill="#e6950f"/>
<circle cx="398.71" cy="180.08" r="1.05" fill="#e6950f"/>
<circle cx="397.82" cy="181.13" r="1.05" fill="#e6950f"/>
<circle cx="397.55" cy="181" r="1.05" fill="#e6950f"/>
<circle cx="398.4" cy="175.16" r="1.05" fill="#e6950f"/>
<circle cx="397.67" cy="175.94" r="1.05" fill="#e6950f"/>
<line x1="419.65" y1="89" x2="419.65" y2="141" stroke="#222" stroke-width="1.0" />
<circle cx="419.65" cy="89" r="1.05" fill="#e6950f"/>
<path d="M419.7,141 C419.78,141.83 420.08,144.17 420.15,146 C420.23,147.83 420.2,150.17 420.15,152 C420.1,153.83 419.83,155.33 419.85,157 C419.87,158.67 420.12,160.5 420.25,162 C420.38,163.5 420.63,164.67 420.65,166 C420.67,167.33 420.15,168.67 420.35,170 C420.55,171.33 421.45,172.67 421.85,174 C422.25,175.33 422.67,176.83 422.75,178 C422.83,179.17 422.68,180.23 422.35,181 C422.02,181.77 421.02,182.33 420.75,182.6 L418.55,182.6 C418.28,182.33 417.28,181.77 416.95,181 C416.62,180.23 416.47,179.17 416.55,178 C416.63,176.83 417.05,175.33 417.45,174 C417.85,172.67 418.75,171.33 418.95,170 C419.15,168.67 418.63,167.33 418.65,166 C418.67,164.67 418.92,163.5 419.05,162 C419.18,160.5 419.43,158.67 419.45,157 C419.47,155.33 419.2,153.83 419.15,152 C419.1,150.17 419.08,147.83 419.15,146 C419.23,144.17 419.53,141.83 419.6,141 Z" fill="none" stroke="#1a1a1a" stroke-width="0.9"/>
<circle cx="420.25" cy="146" r="1.05" fill="#e6950f"/>
<circle cx="419.65" cy="153" r="1.05" fill="#e6950f"/>
<circle cx="418.45" cy="164.5" r="1.05" fill="#e6950f"/>
<circle cx="420.85" cy="164" r="1.05" fill="#e6950f"/>
<circle cx="419.65" cy="171" r="1.05" fill="#e6950f"/>
<circle cx="417.78" cy="178.24" r="1.05" fill="#e6950f"/>
<circle cx="421.23" cy="175.05" r="1.05" fill="#e6950f"/>
<circle cx="418.81" cy="178.88" r="1.05" fill="#e6950f"/>
<circle cx="420.98" cy="179.92" r="1.05" fill="#e6950f"/>
<circle cx="418.69" cy="176.67" r="1.05" fill="#e6950f"/>
<circle cx="418.76" cy="179.13" r="1.05" fill="#e6950f"/>
<circle cx="419.54" cy="175.71" r="1.05" fill="#e6950f"/>
<circle cx="419.8" cy="177.95" r="1.05" fill="#e6950f"/>
<path d="M444.35,155.1 C444.15,155.92 443.65,158.2 443.15,160 C442.65,161.8 441.35,163.9 441.35,165.9 C441.35,167.9 442.65,170.02 443.15,172 C443.65,173.98 444.15,176.83 444.35,177.8 L437.55,177.8 C437.75,176.83 438.25,173.98 438.75,172 C439.25,170.02 440.55,167.9 440.55,165.9 C440.55,163.9 439.25,161.8 438.75,160 C438.25,158.2 437.75,155.92 437.55,155.1 Z" fill="none" stroke="#1a1a1a" stroke-width="0.9"/>
<line x1="439.95" y1="165.9" x2="441.95" y2="165.9" stroke="#000" stroke-width="1.0" stroke-dasharray="1,0.8"/>
<circle cx="440.95" cy="156" r="1.05" fill="#e6950f"/>
<circle cx="440.95" cy="158" r="1.05" fill="#e6950f"/>
<circle cx="440.95" cy="171" r="1.05" fill="#e6950f"/>
<circle cx="440.95" cy="175" r="1.05" fill="#e6950f"/>
<path d="M462.35,142.3 C462.52,142.58 463.18,142.38 463.35,144 C463.52,145.62 463.52,149.67 463.35,152 C463.18,154.33 462.5,155.67 462.35,158 C462.2,160.33 462.17,164 462.45,166 C462.73,168 463.63,168.83 464.05,170 C464.47,171.17 464.78,171.63 464.95,173 C465.12,174.37 465.03,177.33 465.05,178.2 L459.45,178.2 C459.47,177.33 459.38,174.37 459.55,173 C459.72,171.63 460.03,171.17 460.45,170 C460.87,168.83 461.77,168 462.05,166 C462.33,164 462.3,160.33 462.15,158 C462,155.67 461.32,154.33 461.15,152 C460.98,149.67 460.98,145.62 461.15,144 C461.32,142.38 461.98,142.58 462.15,142.3 Z" fill="none" stroke="#1a1a1a" stroke-width="0.9"/>
<circle cx="462.25" cy="142.8" r="1.05" fill="#e6950f"/>
<circle cx="459.65" cy="149" r="1.05" fill="#e6950f"/>
<circle cx="462.25" cy="151" r="1.05" fill="#e6950f"/>
<circle cx="462.25" cy="168" r="1.05" fill="#e6950f"/>
<circle cx="460.25" cy="172" r="1.05" fill="#e6950f"/>
<circle cx="464.25" cy="172" r="1.05" fill="#e6950f"/>
<circle cx="462.25" cy="175" r="1.05" fill="#e6950f"/>
<circle cx="460.25" cy="177" r="1.05" fill="#e6950f"/>
<circle cx="463.75" cy="177.5" r="1.05" fill="#e6950f"/>
<path d="M483.75,133.2 C483.95,133.5 484.75,132.87 484.95,135 C485.15,137.13 485.1,143.33 484.95,146 C484.8,148.67 484.18,149.33 484.05,151 C483.92,152.67 483.87,154.17 484.15,156 C484.43,157.83 485.37,160.33 485.75,162 C486.13,163.67 486.35,164.17 486.45,166 C486.55,167.83 486.7,171.05 486.35,173 C486,174.95 484.68,176.92 484.35,177.7 L482.75,177.7 C482.42,176.92 481.1,174.95 480.75,173 C480.4,171.05 480.55,167.83 480.65,166 C480.75,164.17 480.97,163.67 481.35,162 C481.73,160.33 482.67,157.83 482.95,156 C483.23,154.17 483.18,152.67 483.05,151 C482.92,149.33 482.3,148.67 482.15,146 C482,143.33 481.95,137.13 482.15,135 C482.35,132.87 483.15,133.5 483.35,133.2 Z" fill="none" stroke="#1a1a1a" stroke-width="0.9"/>
<circle cx="483.55" cy="133.4" r="1.05" fill="#e6950f"/>
<circle cx="483.55" cy="145" r="1.05" fill="#e6950f"/>
<circle cx="483.55" cy="148" r="1.05" fill="#e6950f"/>
<circle cx="481.05" cy="164" r="1.05" fill="#e6950f"/>
<circle cx="483.55" cy="164" r="1.05" fill="#e6950f"/>
<circle cx="483.55" cy="170" r="1.05" fill="#e6950f"/>
<circle cx="483.55" cy="172" r="1.05" fill="#e6950f"/>
<circle cx="483.55" cy="177.3" r="1.05" fill="#e6950f"/>
<line x1="481.05" y1="164" x2="486.05" y2="164" stroke="#000" stroke-width="1.0" stroke-dasharray="1,0.8"/>
<path d="M508.25,113.2 C508.12,115 507.75,120.2 507.45,124 C507.15,127.8 506.45,132 506.45,136 C506.45,140 507.15,144.17 507.45,148 C507.75,151.83 508.12,157.17 508.25,159 L501.45,159 C501.58,157.17 501.95,151.83 502.25,148 C502.55,144.17 503.25,140 503.25,136 C503.25,132 502.55,127.8 502.25,124 C501.95,120.2 501.58,115 501.45,113.2 Z" fill="none" stroke="#1a1a1a" stroke-width="0.9"/>
<line x1="502.85" y1="136" x2="506.85" y2="136" stroke="#000" stroke-width="1.0" stroke-dasharray="1,0.8"/>
<circle cx="504.85" cy="113.5" r="1.05" fill="#e6950f"/>
<circle cx="504.85" cy="158.7" r="1.05" fill="#e6950f"/>
<text x="8.4" y="253.2" font-size="13.6" font-weight="bold" fill="#000" stroke="#000" stroke-width="0.35">C</text>
<text x="153.5" y="265.8" font-size="9.8" text-anchor="middle" fill="#000" stroke="#000" stroke-width="0.2" font-weight="normal" style="stroke-width:0.12px">CD45+ CAR- CD3+ CD8+ Lymphocytes</text>
<text transform="translate(26,344.2) rotate(-90) scale(0.695,1)" font-size="9.8" text-anchor="middle" fill="#111" stroke="#111" stroke-width="0.42">Absolute count (cells/uL)</text>
<line x1="55.9" y1="271.5" x2="55.9" y2="417.2" stroke="#1a1a1a" stroke-width="1.8" />
<line x1="52.1" y1="417.2" x2="55.9" y2="417.2" stroke="#1a1a1a" stroke-width="1.1" />
<text x="49.5" y="419.7" font-size="7" text-anchor="end" fill="#222" stroke="#222" stroke-width="0.2" font-weight="normal" letter-spacing="0.45">0</text>
<line x1="52.1" y1="393.45" x2="55.9" y2="393.45" stroke="#1a1a1a" stroke-width="1.1" />
<text x="49.5" y="395.95" font-size="7" text-anchor="end" fill="#222" stroke="#222" stroke-width="0.2" font-weight="normal" letter-spacing="0.45">300</text>
<line x1="52.1" y1="369.7" x2="55.9" y2="369.7" stroke="#1a1a1a" stroke-width="1.1" />
<text x="49.5" y="372.2" font-size="7" text-anchor="end" fill="#222" stroke="#222" stroke-width="0.2" font-weight="normal" letter-spacing="0.45">600</text>
<line x1="52.1" y1="345.95" x2="55.9" y2="345.95" stroke="#1a1a1a" stroke-width="1.1" />
<text x="49.5" y="348.45" font-size="7" text-anchor="end" fill="#222" stroke="#222" stroke-width="0.2" font-weight="normal" letter-spacing="0.45">900</text>
<line x1="52.1" y1="322.2" x2="55.9" y2="322.2" stroke="#1a1a1a" stroke-width="1.1" />
<text x="49.5" y="324.7" font-size="7" text-anchor="end" fill="#222" stroke="#222" stroke-width="0.2" font-weight="normal" letter-spacing="0.45">1200</text>
<line x1="52.1" y1="298.45" x2="55.9" y2="298.45" stroke="#1a1a1a" stroke-width="1.1" />
<text x="49.5" y="300.95" font-size="7" text-anchor="end" fill="#222" stroke="#222" stroke-width="0.2" font-weight="normal" letter-spacing="0.45">1500</text>
<line x1="52.1" y1="274.7" x2="55.9" y2="274.7" stroke="#1a1a1a" stroke-width="1.1" />
<text x="49.5" y="277.2" font-size="7" text-anchor="end" fill="#222" stroke="#222" stroke-width="0.2" font-weight="normal" letter-spacing="0.45">1800</text>
<line x1="53.8" y1="409.28" x2="55.9" y2="409.28" stroke="#1a1a1a" stroke-width="1.05" />
<line x1="53.8" y1="401.37" x2="55.9" y2="401.37" stroke="#1a1a1a" stroke-width="1.05" />
<line x1="53.8" y1="385.53" x2="55.9" y2="385.53" stroke="#1a1a1a" stroke-width="1.05" />
<line x1="53.8" y1="377.62" x2="55.9" y2="377.62" stroke="#1a1a1a" stroke-width="1.05" />
<line x1="53.8" y1="361.78" x2="55.9" y2="361.78" stroke="#1a1a1a" stroke-width="1.05" />
<line x1="53.8" y1="353.87" x2="55.9" y2="353.87" stroke="#1a1a1a" stroke-width="1.05" />
<line x1="53.8" y1="338.03" x2="55.9" y2="338.03" stroke="#1a1a1a" stroke-width="1.05" />
<line x1="53.8" y1="330.12" x2="55.9" y2="330.12" stroke="#1a1a1a" stroke-width="1.05" />
<line x1="53.8" y1="314.28" x2="55.9" y2="314.28" stroke="#1a1a1a" stroke-width="1.05" />
<line x1="53.8" y1="306.37" x2="55.9" y2="306.37" stroke="#1a1a1a" stroke-width="1.05" />
<line x1="53.8" y1="290.53" x2="55.9" y2="290.53" stroke="#1a1a1a" stroke-width="1.05" />
<line x1="53.8" y1="282.62" x2="55.9" y2="282.62" stroke="#1a1a1a" stroke-width="1.05" />
<line x1="55" y1="417.2" x2="252.3" y2="417.2" stroke="#1a1a1a" stroke-width="1.8" />
<line x1="63" y1="418" x2="63" y2="420.6" stroke="#1a1a1a" stroke-width="1.1" />
<text transform="translate(66.4,427.5) rotate(-45)" font-size="7.5" text-anchor="end" fill="#222" stroke="#222" stroke-width="0.2" >Pre</text>
<line x1="73.63" y1="418" x2="73.63" y2="420.6" stroke="#1a1a1a" stroke-width="1.1" />
<line x1="84.26" y1="418" x2="84.26" y2="420.6" stroke="#1a1a1a" stroke-width="1.1" />
<text transform="translate(87.66,427.5) rotate(-45)" font-size="7.5" text-anchor="end" fill="#222" stroke="#222" stroke-width="0.2" >D7</text>
<line x1="94.89" y1="418" x2="94.89" y2="420.6" stroke="#1a1a1a" stroke-width="1.1" />
<text transform="translate(98.29,427.5) rotate(-45)" font-size="7.5" text-anchor="end" fill="#222" stroke="#222" stroke-width="0.2" >D14</text>
<line x1="105.52" y1="418" x2="105.52" y2="420.6" stroke="#1a1a1a" stroke-width="1.1" />
<text transform="translate(108.92,427.5) rotate(-45)" font-size="7.5" text-anchor="end" fill="#222" stroke="#222" stroke-width="0.2" >D21</text>
<line x1="116.15" y1="418" x2="116.15" y2="420.6" stroke="#1a1a1a" stroke-width="1.1" />
<text transform="translate(119.55,427.5) rotate(-45)" font-size="7.5" text-anchor="end" fill="#222" stroke="#222" stroke-width="0.2" >D28</text>
<line x1="126.78" y1="418" x2="126.78" y2="420.6" stroke="#1a1a1a" stroke-width="1.1" />
<text transform="translate(130.18,427.5) rotate(-45)" font-size="7.5" text-anchor="end" fill="#222" stroke="#222" stroke-width="0.2" >M2</text>
<line x1="137.41" y1="418" x2="137.41" y2="420.6" stroke="#1a1a1a" stroke-width="1.1" />
<text transform="translate(140.81,427.5) rotate(-45)" font-size="7.5" text-anchor="end" fill="#222" stroke="#222" stroke-width="0.2" >M3</text>
<line x1="148.04" y1="418" x2="148.04" y2="420.6" stroke="#1a1a1a" stroke-width="1.1" />
<line x1="158.67" y1="418" x2="158.67" y2="420.6" stroke="#1a1a1a" stroke-width="1.1" />
<text transform="translate(162.07,427.5) rotate(-45)" font-size="7.5" text-anchor="end" fill="#222" stroke="#222" stroke-width="0.2" >M6</text>
<line x1="169.3" y1="418" x2="169.3" y2="420.6" stroke="#1a1a1a" stroke-width="1.1" />
<line x1="179.93" y1="418" x2="179.93" y2="420.6" stroke="#1a1a1a" stroke-width="1.1" />
<text transform="translate(183.33,427.5) rotate(-45)" font-size="7.5" text-anchor="end" fill="#222" stroke="#222" stroke-width="0.2" >M9</text>
<line x1="190.56" y1="418" x2="190.56" y2="420.6" stroke="#1a1a1a" stroke-width="1.1" />
<line x1="201.19" y1="418" x2="201.19" y2="420.6" stroke="#1a1a1a" stroke-width="1.1" />
<text transform="translate(204.59,427.5) rotate(-45)" font-size="7.5" text-anchor="end" fill="#222" stroke="#222" stroke-width="0.2" >M12</text>
<line x1="211.82" y1="418" x2="211.82" y2="420.6" stroke="#1a1a1a" stroke-width="1.1" />
<line x1="222.45" y1="418" x2="222.45" y2="420.6" stroke="#1a1a1a" stroke-width="1.1" />
<text transform="translate(225.85,427.5) rotate(-45)" font-size="7.5" text-anchor="end" fill="#222" stroke="#222" stroke-width="0.2" >M18</text>
<line x1="233.08" y1="418" x2="233.08" y2="420.6" stroke="#1a1a1a" stroke-width="1.1" />
<line x1="243.71" y1="418" x2="243.71" y2="420.6" stroke="#1a1a1a" stroke-width="1.1" />
<text transform="translate(247.11,427.5) rotate(-45)" font-size="7.5" text-anchor="end" fill="#222" stroke="#222" stroke-width="0.2" >M24</text>
<text x="67.8" y="448.2" font-size="7" text-anchor="end" fill="#222" stroke="#222" stroke-width="0.2" font-weight="normal" >Number at Risk</text>
<text x="67.8" y="457.2" font-size="7" text-anchor="end" fill="#222" stroke="#222" stroke-width="0.2" font-weight="normal" >N</text>
<text x="116.15" y="448.2" font-size="7" text-anchor="middle" fill="#222" stroke="#222" stroke-width="0.2" font-weight="normal" >38</text>
<text x="116.15" y="457.2" font-size="7" text-anchor="middle" fill="#222" stroke="#222" stroke-width="0.2" font-weight="normal" >31</text>
<text x="126.78" y="448.2" font-size="7" text-anchor="middle" fill="#222" stroke="#222" stroke-width="0.2" font-weight="normal" >37</text>
<text x="126.78" y="457.2" font-size="7" text-anchor="middle" fill="#222" stroke="#222" stroke-width="0.2" font-weight="normal" >17</text>
<text x="137.41" y="448.2" font-size="7" text-anchor="middle" fill="#222" stroke="#222" stroke-width="0.2" font-weight="normal" >36</text>
<text x="137.41" y="457.2" font-size="7" text-anchor="middle" fill="#222" stroke="#222" stroke-width="0.2" font-weight="normal" >18</text>
<text x="158.67" y="448.2" font-size="7" text-anchor="middle" fill="#222" stroke="#222" stroke-width="0.2" font-weight="normal" >23</text>
<text x="158.67" y="457.2" font-size="7" text-anchor="middle" fill="#222" stroke="#222" stroke-width="0.2" font-weight="normal" >15</text>
<text x="179.93" y="448.2" font-size="7" text-anchor="middle" fill="#222" stroke="#222" stroke-width="0.2" font-weight="normal" >20</text>
<text x="179.93" y="457.2" font-size="7" text-anchor="middle" fill="#222" stroke="#222" stroke-width="0.2" font-weight="normal" >4</text>
<text x="201.19" y="448.2" font-size="7" text-anchor="middle" fill="#222" stroke="#222" stroke-width="0.2" font-weight="normal" >17</text>
<text x="201.19" y="457.2" font-size="7" text-anchor="middle" fill="#222" stroke="#222" stroke-width="0.2" font-weight="normal" >10</text>
<text x="222.45" y="448.2" font-size="7" text-anchor="middle" fill="#222" stroke="#222" stroke-width="0.2" font-weight="normal" >14</text>
<text x="222.45" y="457.2" font-size="7" text-anchor="middle" fill="#222" stroke="#222" stroke-width="0.2" font-weight="normal" >6</text>
<text x="243.71" y="448.2" font-size="7" text-anchor="middle" fill="#222" stroke="#222" stroke-width="0.2" font-weight="normal" >3</text>
<text x="243.71" y="457.2" font-size="7" text-anchor="middle" fill="#222" stroke="#222" stroke-width="0.2" font-weight="normal" >2</text>
<text x="69.2" y="281.7" font-size="6.8" fill="#222" stroke="#222" stroke-width="0.2"><tspan font-style="italic">p</tspan><tspan dx="2.6" font-size="8.2" stroke-width="0.75">=</tspan><tspan dx="1.3" font-size="6.7" letter-spacing="0.62" stroke-width="0.3">0.0133</tspan></text>
<path d="M59.6,400.4 L66.4,400.4 Q61.6,404.65 66.4,408.9 L59.6,408.9 Q64.4,404.65 59.6,400.4 Z" fill="none" stroke="#1a1a1a" stroke-width="0.9" stroke-linejoin="round"/>
<circle cx="63" cy="400.4" r="1.05" fill="#c0102e"/>
<circle cx="63" cy="408.9" r="1.05" fill="#c0102e"/>
<path d="M84.31,370 C84.32,373.67 84.23,387.33 84.36,392 C84.48,396.67 84.74,395.83 85.06,398 C85.38,400.17 85.89,402.83 86.26,405 C86.63,407.17 87.13,409.42 87.26,411 C87.39,412.58 87.38,413.53 87.06,414.5 C86.74,415.47 85.64,416.42 85.36,416.8 L83.16,416.8 C82.88,416.42 81.78,415.47 81.46,414.5 C81.14,413.53 81.13,412.58 81.26,411 C81.39,409.42 81.89,407.17 82.26,405 C82.63,402.83 83.14,400.17 83.46,398 C83.78,395.83 84.04,396.67 84.16,392 C84.29,387.33 84.2,373.67 84.21,370 Z" fill="none" stroke="#1a1a1a" stroke-width="0.9"/>
<circle cx="84.26" cy="370" r="1.05" fill="#c0102e"/>
<circle cx="84.07" cy="379.4" r="1.05" fill="#c0102e"/>
<circle cx="84.69" cy="395" r="1.05" fill="#c0102e"/>
<circle cx="83.76" cy="397.5" r="1.05" fill="#c0102e"/>
<circle cx="84.76" cy="400" r="1.05" fill="#c0102e"/>
<circle cx="83.76" cy="403" r="1.05" fill="#c0102e"/>
<circle cx="85.08" cy="406.78" r="1.05" fill="#c0102e"/>
<circle cx="83.62" cy="407.73" r="1.05" fill="#c0102e"/>
<circle cx="83.78" cy="409.83" r="1.05" fill="#c0102e"/>
<circle cx="84.3" cy="410.93" r="1.05" fill="#c0102e"/>
<circle cx="84.6" cy="410.25" r="1.05" fill="#c0102e"/>
<circle cx="84.16" cy="408.09" r="1.05" fill="#c0102e"/>
<circle cx="83.94" cy="407.93" r="1.05" fill="#c0102e"/>
<circle cx="84.26" cy="406.87" r="1.05" fill="#c0102e"/>
<circle cx="84.46" cy="413.45" r="1.05" fill="#c0102e"/>
<circle cx="84.74" cy="403.97" r="1.05" fill="#c0102e"/>
<circle cx="84.52" cy="413.56" r="1.05" fill="#c0102e"/>
<circle cx="84.47" cy="399.01" r="1.05" fill="#c0102e"/>
<circle cx="83.54" cy="415.86" r="1.05" fill="#c0102e"/>
<circle cx="83.67" cy="412.39" r="1.05" fill="#c0102e"/>
<circle cx="84.29" cy="401.03" r="1.05" fill="#c0102e"/>
<circle cx="84.53" cy="412.71" r="1.05" fill="#c0102e"/>
<circle cx="84.21" cy="401" r="1.05" fill="#c0102e"/>
<circle cx="84.49" cy="402.62" r="1.05" fill="#c0102e"/>
<circle cx="84.75" cy="402.67" r="1.05" fill="#c0102e"/>
<circle cx="83.6" cy="404.1" r="1.05" fill="#c0102e"/>
<circle cx="84.16" cy="403.18" r="1.05" fill="#c0102e"/>
<circle cx="83.8" cy="415.5" r="1.05" fill="#c0102e"/>
<circle cx="84.35" cy="402.14" r="1.05" fill="#c0102e"/>
<circle cx="84.02" cy="403.29" r="1.05" fill="#c0102e"/>
<circle cx="85" cy="414.17" r="1.05" fill="#c0102e"/>
<circle cx="83.06" cy="409.26" r="1.05" fill="#c0102e"/>
<circle cx="84.06" cy="400.18" r="1.05" fill="#c0102e"/>
<circle cx="85.87" cy="409.57" r="1.05" fill="#c0102e"/>
<circle cx="84.46" cy="399.29" r="1.05" fill="#c0102e"/>
<circle cx="84.7" cy="402.03" r="1.05" fill="#c0102e"/>
<path d="M94.94,369.6 C94.98,374 94.97,390.6 95.19,396 C95.41,401.4 95.87,400 96.29,402 C96.71,404 97.39,406.17 97.69,408 C97.99,409.83 98.29,411.53 98.09,413 C97.89,414.47 96.76,416.17 96.49,416.8 L93.29,416.8 C93.02,416.17 91.89,414.47 91.69,413 C91.49,411.53 91.79,409.83 92.09,408 C92.39,406.17 93.07,404 93.49,402 C93.91,400 94.37,401.4 94.59,396 C94.81,390.6 94.8,374 94.84,369.6 Z" fill="none" stroke="#1a1a1a" stroke-width="0.9"/>
<circle cx="94.89" cy="369.6" r="1.05" fill="#c0102e"/>
<circle cx="94.68" cy="377" r="1.05" fill="#c0102e"/>
<circle cx="95.16" cy="385" r="1.05" fill="#c0102e"/>
<circle cx="94.6" cy="388" r="1.05" fill="#c0102e"/>
<circle cx="95.21" cy="392" r="1.05" fill="#c0102e"/>
<circle cx="94.55" cy="395" r="1.05" fill="#c0102e"/>
<circle cx="95.39" cy="398" r="1.05" fill="#c0102e"/>
<circle cx="95.93" cy="406.64" r="1.05" fill="#c0102e"/>
<circle cx="94.63" cy="410.57" r="1.05" fill="#c0102e"/>
<circle cx="96.04" cy="404.13" r="1.05" fill="#c0102e"/>
<circle cx="94.98" cy="407.26" r="1.05" fill="#c0102e"/>
<circle cx="95.17" cy="400.46" r="1.05" fill="#c0102e"/>
<circle cx="93.27" cy="410.68" r="1.05" fill="#c0102e"/>
<circle cx="95.09" cy="405.29" r="1.05" fill="#c0102e"/>
<circle cx="94.5" cy="405" r="1.05" fill="#c0102e"/>
<circle cx="94.88" cy="415.77" r="1.05" fill="#c0102e"/>
<circle cx="94.59" cy="410.56" r="1.05" fill="#c0102e"/>
<circle cx="95.36" cy="404.61" r="1.05" fill="#c0102e"/>
<circle cx="94.52" cy="405.83" r="1.05" fill="#c0102e"/>
<circle cx="94.81" cy="398.67" r="1.05" fill="#c0102e"/>
<circle cx="94.47" cy="401.8" r="1.05" fill="#c0102e"/>
<circle cx="94.64" cy="404.63" r="1.05" fill="#c0102e"/>
<circle cx="94.97" cy="398.12" r="1.05" fill="#c0102e"/>
<circle cx="94.32" cy="402.4" r="1.05" fill="#c0102e"/>
<circle cx="93.91" cy="407.17" r="1.05" fill="#c0102e"/>
<circle cx="94.1" cy="413.14" r="1.05" fill="#c0102e"/>
<circle cx="93.53" cy="406.69" r="1.05" fill="#c0102e"/>
<circle cx="93.63" cy="414.28" r="1.05" fill="#c0102e"/>
<circle cx="95.95" cy="407.38" r="1.05" fill="#c0102e"/>
<circle cx="94.88" cy="403.19" r="1.05" fill="#c0102e"/>
<circle cx="93.94" cy="405.65" r="1.05" fill="#c0102e"/>
<circle cx="94.79" cy="408.19" r="1.05" fill="#c0102e"/>
<circle cx="94.08" cy="411.84" r="1.05" fill="#c0102e"/>
<circle cx="94.83" cy="412.36" r="1.05" fill="#c0102e"/>
<circle cx="93.11" cy="411.39" r="1.05" fill="#c0102e"/>
<path d="M105.57,321.9 C105.6,332.42 105.5,372.65 105.72,385 C105.95,397.35 106.52,392.5 106.92,396 C107.32,399.5 107.89,403.17 108.12,406 C108.35,408.83 108.57,411.2 108.32,413 C108.07,414.8 106.9,416.17 106.62,416.8 L104.42,416.8 C104.14,416.17 102.97,414.8 102.72,413 C102.47,411.2 102.69,408.83 102.92,406 C103.15,403.17 103.72,399.5 104.12,396 C104.52,392.5 105.09,397.35 105.32,385 C105.55,372.65 105.45,332.42 105.47,321.9 Z" fill="none" stroke="#1a1a1a" stroke-width="0.9"/>
<circle cx="105.52" cy="321.9" r="1.05" fill="#c0102e"/>
<circle cx="105.34" cy="335" r="1.05" fill="#c0102e"/>
<circle cx="105.74" cy="350" r="1.05" fill="#c0102e"/>
<circle cx="105.27" cy="365" r="1.05" fill="#c0102e"/>
<circle cx="105.8" cy="375" r="1.05" fill="#c0102e"/>
<circle cx="105.23" cy="380" r="1.05" fill="#c0102e"/>
<circle cx="105.82" cy="384" r="1.05" fill="#c0102e"/>
<circle cx="105.06" cy="388" r="1.05" fill="#c0102e"/>
<circle cx="106.02" cy="392" r="1.05" fill="#c0102e"/>
<circle cx="105.42" cy="407.92" r="1.05" fill="#c0102e"/>
<circle cx="105.92" cy="393.86" r="1.05" fill="#c0102e"/>
<circle cx="105.27" cy="403.92" r="1.05" fill="#c0102e"/>
<circle cx="104.93" cy="411.95" r="1.05" fill="#c0102e"/>
<circle cx="105.7" cy="411.22" r="1.05" fill="#c0102e"/>
<circle cx="105.75" cy="402.75" r="1.05" fill="#c0102e"/>
<circle cx="105.78" cy="399.54" r="1.05" fill="#c0102e"/>
<circle cx="106.19" cy="411.47" r="1.05" fill="#c0102e"/>
<circle cx="104.48" cy="404.52" r="1.05" fill="#c0102e"/>
<circle cx="105.02" cy="401.62" r="1.05" fill="#c0102e"/>
<circle cx="105.72" cy="396.64" r="1.05" fill="#c0102e"/>
<circle cx="105.36" cy="396.17" r="1.05" fill="#c0102e"/>
<circle cx="105.22" cy="414.99" r="1.05" fill="#c0102e"/>
<circle cx="105.51" cy="391.13" r="1.05" fill="#c0102e"/>
<circle cx="104.56" cy="406.74" r="1.05" fill="#c0102e"/>
<circle cx="104.09" cy="413.22" r="1.05" fill="#c0102e"/>
<circle cx="104.68" cy="405.81" r="1.05" fill="#c0102e"/>
<circle cx="104.78" cy="405.22" r="1.05" fill="#c0102e"/>
<circle cx="104.87" cy="398.94" r="1.05" fill="#c0102e"/>
<circle cx="105.19" cy="392.94" r="1.05" fill="#c0102e"/>
<circle cx="104.75" cy="404.57" r="1.05" fill="#c0102e"/>
<circle cx="104.27" cy="398.99" r="1.05" fill="#c0102e"/>
<circle cx="105.33" cy="393.18" r="1.05" fill="#c0102e"/>
<circle cx="105.4" cy="390.15" r="1.05" fill="#c0102e"/>
<circle cx="106.19" cy="403.54" r="1.05" fill="#c0102e"/>
<circle cx="104.7" cy="413.85" r="1.05" fill="#c0102e"/>
<circle cx="106.05" cy="412.25" r="1.05" fill="#c0102e"/>
<circle cx="105.38" cy="396.4" r="1.05" fill="#c0102e"/>
<path d="M116.2,314.9 C116.23,324.42 116.18,360.82 116.35,372 C116.53,383.18 116.93,378.17 117.25,382 C117.57,385.83 117.92,391.17 118.25,395 C118.58,398.83 119.08,402 119.25,405 C119.42,408 119.53,411.03 119.25,413 C118.97,414.97 117.83,416.17 117.55,416.8 L114.75,416.8 C114.47,416.17 113.33,414.97 113.05,413 C112.77,411.03 112.88,408 113.05,405 C113.22,402 113.72,398.83 114.05,395 C114.38,391.17 114.73,385.83 115.05,382 C115.37,378.17 115.78,383.18 115.95,372 C116.12,360.82 116.08,324.42 116.1,314.9 Z" fill="none" stroke="#1a1a1a" stroke-width="0.9"/>
<circle cx="116.15" cy="314.9" r="1.05" fill="#c0102e"/>
<circle cx="115.96" cy="330" r="1.05" fill="#c0102e"/>
<circle cx="116.38" cy="345" r="1.05" fill="#c0102e"/>
<circle cx="115.88" cy="360" r="1.05" fill="#c0102e"/>
<circle cx="116.44" cy="370" r="1.05" fill="#c0102e"/>
<circle cx="115.65" cy="378" r="1.05" fill="#c0102e"/>
<circle cx="116.65" cy="381" r="1.05" fill="#c0102e"/>
<circle cx="115.65" cy="384" r="1.05" fill="#c0102e"/>
<circle cx="116.65" cy="387" r="1.05" fill="#c0102e"/>
<circle cx="115.65" cy="390" r="1.05" fill="#c0102e"/>
<circle cx="116.65" cy="393" r="1.05" fill="#c0102e"/>
<circle cx="115.65" cy="396" r="1.05" fill="#c0102e"/>
<circle cx="116.65" cy="399" r="1.05" fill="#c0102e"/>
<circle cx="115.65" cy="402" r="1.05" fill="#c0102e"/>
<circle cx="116.19" cy="405.34" r="1.05" fill="#c0102e"/>
<circle cx="115.16" cy="407.9" r="1.05" fill="#c0102e"/>
<circle cx="115.96" cy="397.38" r="1.05" fill="#c0102e"/>
<circle cx="114.77" cy="413.13" r="1.05" fill="#c0102e"/>
<circle cx="115.86" cy="404.71" r="1.05" fill="#c0102e"/>
<circle cx="116.01" cy="388.84" r="1.05" fill="#c0102e"/>
<circle cx="116.96" cy="415.51" r="1.05" fill="#c0102e"/>
<circle cx="117.59" cy="403.95" r="1.05" fill="#c0102e"/>
<circle cx="116.36" cy="403.38" r="1.05" fill="#c0102e"/>
<circle cx="115.48" cy="412.29" r="1.05" fill="#c0102e"/>
<circle cx="117.72" cy="400.61" r="1.05" fill="#c0102e"/>
<circle cx="117.09" cy="393.76" r="1.05" fill="#c0102e"/>
<circle cx="115.69" cy="401.4" r="1.05" fill="#c0102e"/>
<circle cx="116.26" cy="401.69" r="1.05" fill="#c0102e"/>
<circle cx="116.74" cy="403.58" r="1.05" fill="#c0102e"/>
<circle cx="115.95" cy="412" r="1.05" fill="#c0102e"/>
<circle cx="114.37" cy="406.95" r="1.05" fill="#c0102e"/>
<circle cx="115.72" cy="414.45" r="1.05" fill="#c0102e"/>
<circle cx="116.38" cy="414.3" r="1.05" fill="#c0102e"/>
<circle cx="115.81" cy="404.61" r="1.05" fill="#c0102e"/>
<circle cx="116.51" cy="386.09" r="1.05" fill="#c0102e"/>
<circle cx="115.96" cy="396.18" r="1.05" fill="#c0102e"/>
<circle cx="116.95" cy="391.21" r="1.05" fill="#c0102e"/>
<circle cx="117.04" cy="392.76" r="1.05" fill="#c0102e"/>
<circle cx="116.06" cy="408.76" r="1.05" fill="#c0102e"/>
<circle cx="115.49" cy="414.4" r="1.05" fill="#c0102e"/>
<circle cx="116.87" cy="396.43" r="1.05" fill="#c0102e"/>
<circle cx="116.94" cy="409.13" r="1.05" fill="#c0102e"/>
<circle cx="116.48" cy="399.63" r="1.05" fill="#c0102e"/>
<circle cx="116.04" cy="389.39" r="1.05" fill="#c0102e"/>
<circle cx="116.58" cy="393.01" r="1.05" fill="#c0102e"/>
<circle cx="116.94" cy="391.94" r="1.05" fill="#c0102e"/>
<path d="M126.83,349.4 C126.95,350.17 127.32,352.23 127.58,354 C127.84,355.77 128.13,357.83 128.38,360 C128.63,362.17 129.11,364.5 129.08,367 C129.05,369.5 128.53,372.07 128.18,375 C127.83,377.93 127.01,381.77 126.98,384.6 C126.95,387.43 127.61,389.43 127.98,392 C128.35,394.57 128.9,397.67 129.18,400 C129.46,402.33 129.65,403.83 129.68,406 C129.71,408.17 129.73,411.2 129.38,413 C129.03,414.8 127.88,416.17 127.58,416.8 L125.98,416.8 C125.68,416.17 124.53,414.8 124.18,413 C123.83,411.2 123.85,408.17 123.88,406 C123.91,403.83 124.1,402.33 124.38,400 C124.66,397.67 125.21,394.57 125.58,392 C125.95,389.43 126.61,387.43 126.58,384.6 C126.55,381.77 125.73,377.93 125.38,375 C125.03,372.07 124.51,369.5 124.48,367 C124.45,364.5 124.93,362.17 125.18,360 C125.43,357.83 125.72,355.77 125.98,354 C126.24,352.23 126.61,350.17 126.73,349.4 Z" fill="none" stroke="#1a1a1a" stroke-width="0.9"/>
<circle cx="126.78" cy="349.4" r="1.05" fill="#c0102e"/>
<circle cx="126.28" cy="357" r="1.05" fill="#c0102e"/>
<circle cx="127.28" cy="375" r="1.05" fill="#c0102e"/>
<circle cx="126.44" cy="384" r="1.05" fill="#c0102e"/>
<circle cx="127.28" cy="392" r="1.05" fill="#c0102e"/>
<circle cx="127.32" cy="415.46" r="1.05" fill="#c0102e"/>
<circle cx="126.92" cy="415.91" r="1.05" fill="#c0102e"/>
<circle cx="127.6" cy="400.08" r="1.05" fill="#c0102e"/>
<circle cx="126.75" cy="400.58" r="1.05" fill="#c0102e"/>
<circle cx="127.67" cy="411.91" r="1.05" fill="#c0102e"/>
<circle cx="127.42" cy="399.91" r="1.05" fill="#c0102e"/>
<circle cx="125.93" cy="406.97" r="1.05" fill="#c0102e"/>
<circle cx="126.48" cy="408.69" r="1.05" fill="#c0102e"/>
<circle cx="126.49" cy="405.39" r="1.05" fill="#c0102e"/>
<circle cx="126.31" cy="409.64" r="1.05" fill="#c0102e"/>
<circle cx="126.9" cy="413.81" r="1.05" fill="#c0102e"/>
<circle cx="127.13" cy="404.94" r="1.05" fill="#c0102e"/>
<circle cx="128.19" cy="405.64" r="1.05" fill="#c0102e"/>
<circle cx="127.74" cy="399.99" r="1.05" fill="#c0102e"/>
<circle cx="127.35" cy="414.18" r="1.05" fill="#c0102e"/>
<circle cx="127.05" cy="405.06" r="1.05" fill="#c0102e"/>
<circle cx="124.91" cy="410.71" r="1.05" fill="#c0102e"/>
<circle cx="126.8" cy="415.02" r="1.05" fill="#c0102e"/>
<circle cx="126.14" cy="415.7" r="1.05" fill="#c0102e"/>
<circle cx="127.21" cy="407.08" r="1.05" fill="#c0102e"/>
<circle cx="126.95" cy="409.68" r="1.05" fill="#c0102e"/>
<circle cx="126.85" cy="402.06" r="1.05" fill="#c0102e"/>
<circle cx="127.44" cy="408.11" r="1.05" fill="#c0102e"/>
<circle cx="126.78" cy="412.42" r="1.05" fill="#c0102e"/>
<path d="M137.46,306.4 C137.49,311.17 137.39,327.73 137.61,335 C137.84,342.27 138.43,345.83 138.81,350 C139.19,354.17 139.91,356.33 139.91,360 C139.91,363.67 139.21,367.05 138.81,372 C138.41,376.95 137.41,385.37 137.51,389.7 C137.61,394.03 138.91,395.28 139.41,398 C139.91,400.72 140.33,403.67 140.51,406 C140.69,408.33 140.89,410.2 140.51,412 C140.13,413.8 138.59,416 138.21,416.8 L136.61,416.8 C136.23,416 134.69,413.8 134.31,412 C133.93,410.2 134.13,408.33 134.31,406 C134.49,403.67 134.91,400.72 135.41,398 C135.91,395.28 137.21,394.03 137.31,389.7 C137.41,385.37 136.41,376.95 136.01,372 C135.61,367.05 134.91,363.67 134.91,360 C134.91,356.33 135.63,354.17 136.01,350 C136.39,345.83 136.99,342.27 137.21,335 C137.44,327.73 137.34,311.17 137.36,306.4 Z" fill="none" stroke="#1a1a1a" stroke-width="0.9"/>
<circle cx="137.41" cy="306.4" r="1.05" fill="#c0102e"/>
<circle cx="136.91" cy="372" r="1.05" fill="#c0102e"/>
<circle cx="137.34" cy="403.3" r="1.05" fill="#c0102e"/>
<circle cx="136.52" cy="404.27" r="1.05" fill="#c0102e"/>
<circle cx="137.62" cy="396.2" r="1.05" fill="#c0102e"/>
<circle cx="136.98" cy="411.02" r="1.05" fill="#c0102e"/>
<circle cx="136.36" cy="412.31" r="1.05" fill="#c0102e"/>
<circle cx="137.19" cy="408.66" r="1.05" fill="#c0102e"/>
<circle cx="137.26" cy="401.22" r="1.05" fill="#c0102e"/>
<circle cx="138.06" cy="408.99" r="1.05" fill="#c0102e"/>
<circle cx="137.62" cy="411.96" r="1.05" fill="#c0102e"/>
<circle cx="136.1" cy="402.15" r="1.05" fill="#c0102e"/>
<circle cx="138.32" cy="410.7" r="1.05" fill="#c0102e"/>
<circle cx="137.88" cy="414.56" r="1.05" fill="#c0102e"/>
<circle cx="137.09" cy="408.38" r="1.05" fill="#c0102e"/>
<circle cx="137.09" cy="400.69" r="1.05" fill="#c0102e"/>
<circle cx="136.91" cy="409.32" r="1.05" fill="#c0102e"/>
<circle cx="137.74" cy="409.24" r="1.05" fill="#c0102e"/>
<circle cx="136.5" cy="397.88" r="1.05" fill="#c0102e"/>
<circle cx="137.06" cy="414.56" r="1.05" fill="#c0102e"/>
<circle cx="138.41" cy="411.46" r="1.05" fill="#c0102e"/>
<circle cx="136.73" cy="399.6" r="1.05" fill="#c0102e"/>
<circle cx="137.94" cy="398.1" r="1.05" fill="#c0102e"/>
<circle cx="138.47" cy="405.38" r="1.05" fill="#c0102e"/>
<circle cx="137.11" cy="396.61" r="1.05" fill="#c0102e"/>
<circle cx="136.89" cy="406.16" r="1.05" fill="#c0102e"/>
<circle cx="124.78" cy="367" r="1.05" fill="#c0102e"/>
<circle cx="126.08" cy="367" r="1.05" fill="#c0102e"/>
<circle cx="127.48" cy="367" r="1.05" fill="#c0102e"/>
<circle cx="128.78" cy="367" r="1.05" fill="#c0102e"/>
<circle cx="135.91" cy="355" r="1.05" fill="#c0102e"/>
<circle cx="138.91" cy="358" r="1.05" fill="#c0102e"/>
<circle cx="135.41" cy="362" r="1.05" fill="#c0102e"/>
<circle cx="139.41" cy="364" r="1.05" fill="#c0102e"/>
<circle cx="137.41" cy="368" r="1.05" fill="#c0102e"/>
<path d="M161.67,342.9 C161.47,343.42 160.89,344.48 160.47,346 C160.05,347.52 159.42,348.83 159.17,352 C158.92,355.17 158.82,361.67 158.97,365 C159.12,368.33 159.82,368.67 160.07,372 C160.32,375.33 160.44,381.5 160.47,385 C160.5,388.5 160.44,390.5 160.27,393 C160.1,395.5 159.34,397.83 159.47,400 C159.6,402.17 160.69,404 161.07,406 C161.45,408 161.7,410.37 161.77,412 C161.84,413.63 161.52,415.17 161.47,415.8 L155.87,415.8 C155.82,415.17 155.5,413.63 155.57,412 C155.64,410.37 155.89,408 156.27,406 C156.65,404 157.74,402.17 157.87,400 C158,397.83 157.24,395.5 157.07,393 C156.9,390.5 156.84,388.5 156.87,385 C156.9,381.5 157.02,375.33 157.27,372 C157.52,368.67 158.22,368.33 158.37,365 C158.52,361.67 158.42,355.17 158.17,352 C157.92,348.83 157.29,347.52 156.87,346 C156.45,344.48 155.87,343.42 155.67,342.9 Z" fill="none" stroke="#1a1a1a" stroke-width="0.9"/>
<circle cx="158.67" cy="342.9" r="1.05" fill="#c0102e"/>
<circle cx="158.17" cy="369" r="1.05" fill="#c0102e"/>
<circle cx="159.17" cy="379" r="1.05" fill="#c0102e"/>
<circle cx="158.17" cy="387" r="1.05" fill="#c0102e"/>
<circle cx="159.17" cy="397" r="1.05" fill="#c0102e"/>
<circle cx="158.17" cy="404" r="1.05" fill="#c0102e"/>
<circle cx="159.17" cy="409" r="1.05" fill="#c0102e"/>
<circle cx="158.17" cy="412" r="1.05" fill="#c0102e"/>
<circle cx="160.32" cy="410.85" r="1.05" fill="#c0102e"/>
<circle cx="160.03" cy="413.58" r="1.05" fill="#c0102e"/>
<circle cx="159.52" cy="405.3" r="1.05" fill="#c0102e"/>
<circle cx="155.67" cy="342.9" r="1.05" fill="#c0102e"/>
<circle cx="161.67" cy="342.9" r="1.05" fill="#c0102e"/>
<circle cx="156.47" cy="369" r="1.05" fill="#c0102e"/>
<circle cx="160.87" cy="369" r="1.05" fill="#c0102e"/>
<path d="M180.13,332.6 C180.36,332.92 181.33,332.43 181.53,334.5 C181.73,336.57 181.56,340.82 181.33,345 C181.1,349.18 180,353.77 180.13,359.6 C180.26,365.43 181.6,373.6 182.13,380 C182.66,386.4 183.13,393 183.33,398 C183.53,403 183.4,407.2 183.33,410 C183.26,412.8 183,414 182.93,414.8 L176.93,414.8 C176.86,414 176.6,412.8 176.53,410 C176.46,407.2 176.33,403 176.53,398 C176.73,393 177.2,386.4 177.73,380 C178.26,373.6 179.6,365.43 179.73,359.6 C179.86,353.77 178.76,349.18 178.53,345 C178.3,340.82 178.13,336.57 178.33,334.5 C178.53,332.43 179.5,332.92 179.73,332.6 Z" fill="none" stroke="#1a1a1a" stroke-width="0.9"/>
<circle cx="179.93" cy="332.6" r="1.05" fill="#c0102e"/>
<circle cx="179.43" cy="348" r="1.05" fill="#c0102e"/>
<circle cx="180.43" cy="388" r="1.05" fill="#c0102e"/>
<circle cx="179.43" cy="399" r="1.05" fill="#c0102e"/>
<circle cx="180.43" cy="405" r="1.05" fill="#c0102e"/>
<circle cx="180.33" cy="404.57" r="1.05" fill="#c0102e"/>
<circle cx="179.99" cy="408.95" r="1.05" fill="#c0102e"/>
<circle cx="181" cy="405.76" r="1.05" fill="#c0102e"/>
<line x1="176.43" y1="399.5" x2="183.43" y2="399.5" stroke="#000" stroke-width="1.0" stroke-dasharray="1,0.8"/>
<path d="M201.39,361 C201.52,361.33 202.12,361.17 202.19,363 C202.26,364.83 201.86,369.17 201.79,372 C201.72,374.83 201.56,377.33 201.79,380 C202.02,382.67 202.82,385.33 203.19,388 C203.56,390.67 203.96,393.83 203.99,396 C204.02,398.17 203.69,399.33 203.39,401 C203.09,402.67 202.26,404.5 202.19,406 C202.12,407.5 202.89,408.53 202.99,410 C203.09,411.47 202.82,414 202.79,414.8 L199.59,414.8 C199.56,414 199.29,411.47 199.39,410 C199.49,408.53 200.26,407.5 200.19,406 C200.12,404.5 199.29,402.67 198.99,401 C198.69,399.33 198.36,398.17 198.39,396 C198.42,393.83 198.82,390.67 199.19,388 C199.56,385.33 200.36,382.67 200.59,380 C200.82,377.33 200.66,374.83 200.59,372 C200.52,369.17 200.12,364.83 200.19,363 C200.26,361.17 200.86,361.33 200.99,361 Z" fill="none" stroke="#1a1a1a" stroke-width="0.9"/>
<circle cx="201.19" cy="361" r="1.05" fill="#c0102e"/>
<circle cx="200.69" cy="374" r="1.05" fill="#c0102e"/>
<circle cx="201.69" cy="385" r="1.05" fill="#c0102e"/>
<circle cx="200.69" cy="392" r="1.05" fill="#c0102e"/>
<circle cx="201.69" cy="402" r="1.05" fill="#c0102e"/>
<circle cx="200.69" cy="410" r="1.05" fill="#c0102e"/>
<circle cx="201.69" cy="413" r="1.05" fill="#c0102e"/>
<circle cx="200.59" cy="408.43" r="1.05" fill="#c0102e"/>
<circle cx="201.19" cy="404.69" r="1.05" fill="#c0102e"/>
<circle cx="198.89" cy="398" r="1.05" fill="#c0102e"/>
<circle cx="203.49" cy="398" r="1.05" fill="#c0102e"/>
<path d="M223.65,289.4 C223.8,289.67 224.37,284.23 224.55,291 C224.73,297.77 224.67,315.17 224.75,330 C224.83,344.83 224.95,367.27 225.05,380 C225.15,392.73 225.3,402 225.35,406.4 L219.55,406.4 C219.6,402 219.75,392.73 219.85,380 C219.95,367.27 220.07,344.83 220.15,330 C220.23,315.17 220.17,297.77 220.35,291 C220.53,284.23 221.1,289.67 221.25,289.4 Z" fill="none" stroke="#1a1a1a" stroke-width="0.9"/>
<circle cx="222.45" cy="289.4" r="1.05" fill="#c0102e"/>
<circle cx="221.95" cy="338" r="1.05" fill="#c0102e"/>
<circle cx="222.95" cy="362" r="1.05" fill="#c0102e"/>
<circle cx="221.95" cy="391" r="1.05" fill="#c0102e"/>
<circle cx="222.95" cy="393" r="1.05" fill="#c0102e"/>
<circle cx="221.95" cy="396" r="1.05" fill="#c0102e"/>
<circle cx="222.95" cy="405.5" r="1.05" fill="#c0102e"/>
<line x1="220.25" y1="376.9" x2="224.65" y2="376.9" stroke="#000" stroke-width="1.0" stroke-dasharray="1,0.8"/>
<path d="M240.21,338.3 L247.21,338.3 Q241.81,369.4 247.21,401.4 L240.21,401.4 Q245.61,369.4 240.21,338.3 Z" fill="none" stroke="#1a1a1a" stroke-width="0.9" stroke-linejoin="round"/>
<circle cx="243.71" cy="338.5" r="1.05" fill="#c0102e"/>
<circle cx="243.71" cy="401.1" r="1.05" fill="#c0102e"/>
<line x1="242.31" y1="369.4" x2="245.11" y2="369.4" stroke="#000" stroke-width="1.0" stroke-dasharray="1,0.8"/>
<text x="268.9" y="253.2" font-size="13.6" font-weight="bold" fill="#000" stroke="#000" stroke-width="0.35">D</text>
<text x="411.9" y="265.8" font-size="9.65" text-anchor="middle" fill="#000" stroke="#000" stroke-width="0.2" font-weight="normal" style="stroke-width:0.12px">CD4+:CD8+ Lymphocyte Ratio</text>
<text transform="translate(288.4,343.9) rotate(-90) scale(0.683,1)" font-size="9.8" text-anchor="middle" fill="#111" stroke="#111" stroke-width="0.42">Ratio (Abs CD4+ count/Abs CD8+ count)</text>
<line x1="314.6" y1="271.5" x2="314.6" y2="343.2" stroke="#1a1a1a" stroke-width="1.8" />
<line x1="310.8" y1="330.1" x2="314.6" y2="330.1" stroke="#1a1a1a" stroke-width="1.1" />
<text x="308.2" y="332.6" font-size="7" text-anchor="end" fill="#222" stroke="#222" stroke-width="0.2" font-weight="normal" letter-spacing="0.45">50</text>
<line x1="310.8" y1="302.15" x2="314.6" y2="302.15" stroke="#1a1a1a" stroke-width="1.1" />
<text x="308.2" y="304.65" font-size="7" text-anchor="end" fill="#222" stroke="#222" stroke-width="0.2" font-weight="normal" letter-spacing="0.45">150</text>
<line x1="310.8" y1="274.2" x2="314.6" y2="274.2" stroke="#1a1a1a" stroke-width="1.1" />
<text x="308.2" y="276.7" font-size="7" text-anchor="end" fill="#222" stroke="#222" stroke-width="0.2" font-weight="normal" letter-spacing="0.45">250</text>
<line x1="312.5" y1="316.12" x2="314.6" y2="316.12" stroke="#1a1a1a" stroke-width="1.05" />
<line x1="312.5" y1="288.18" x2="314.6" y2="288.18" stroke="#1a1a1a" stroke-width="1.05" />
<line x1="314.6" y1="348.8" x2="314.6" y2="417.2" stroke="#1a1a1a" stroke-width="1.8" />
<line x1="310.8" y1="417.2" x2="314.6" y2="417.2" stroke="#1a1a1a" stroke-width="1.1" />
<text x="308.2" y="419.7" font-size="7" text-anchor="end" fill="#222" stroke="#222" stroke-width="0.2" font-weight="normal" letter-spacing="0.45">0</text>
<line x1="310.8" y1="403.5" x2="314.6" y2="403.5" stroke="#1a1a1a" stroke-width="1.1" />
<text x="308.2" y="406" font-size="7" text-anchor="end" fill="#c3304f" stroke="#c3304f" stroke-width="0.2" font-weight="normal" letter-spacing="0.45">1</text>
<line x1="310.8" y1="389.8" x2="314.6" y2="389.8" stroke="#1a1a1a" stroke-width="1.1" />
<text x="308.2" y="392.3" font-size="7" text-anchor="end" fill="#222" stroke="#222" stroke-width="0.2" font-weight="normal" letter-spacing="0.45">2</text>
<line x1="310.8" y1="376.1" x2="314.6" y2="376.1" stroke="#1a1a1a" stroke-width="1.1" />
<text x="308.2" y="378.6" font-size="7" text-anchor="end" fill="#222" stroke="#222" stroke-width="0.2" font-weight="normal" letter-spacing="0.45">3</text>
<line x1="310.8" y1="362.4" x2="314.6" y2="362.4" stroke="#1a1a1a" stroke-width="1.1" />
<text x="308.2" y="364.9" font-size="7" text-anchor="end" fill="#222" stroke="#222" stroke-width="0.2" font-weight="normal" letter-spacing="0.45">4</text>
<line x1="310.8" y1="348.7" x2="314.6" y2="348.7" stroke="#1a1a1a" stroke-width="1.1" />
<text x="308.2" y="351.2" font-size="7" text-anchor="end" fill="#222" stroke="#222" stroke-width="0.2" font-weight="normal" letter-spacing="0.45">5</text>
<line x1="312.5" y1="410.35" x2="314.6" y2="410.35" stroke="#1a1a1a" stroke-width="1.05" />
<line x1="312.5" y1="396.65" x2="314.6" y2="396.65" stroke="#1a1a1a" stroke-width="1.05" />
<line x1="312.5" y1="382.95" x2="314.6" y2="382.95" stroke="#1a1a1a" stroke-width="1.05" />
<line x1="312.5" y1="369.25" x2="314.6" y2="369.25" stroke="#1a1a1a" stroke-width="1.05" />
<line x1="312.5" y1="355.55" x2="314.6" y2="355.55" stroke="#1a1a1a" stroke-width="1.05" />
<path d="M312.3,345.1 L316.9,341.3" stroke="#111" stroke-width="1.25"/>
<path d="M312.3,350.7 L316.9,346.9" stroke="#111" stroke-width="1.25"/>
<line x1="313.7" y1="417.2" x2="510" y2="417.2" stroke="#1a1a1a" stroke-width="1.8" />
<line x1="321.7" y1="418" x2="321.7" y2="420.6" stroke="#1a1a1a" stroke-width="1.1" />
<text transform="translate(325.1,427.5) rotate(-45)" font-size="7.5" text-anchor="end" fill="#222" stroke="#222" stroke-width="0.2" >Pre</text>
<line x1="332.31" y1="418" x2="332.31" y2="420.6" stroke="#1a1a1a" stroke-width="1.1" />
<line x1="342.92" y1="418" x2="342.92" y2="420.6" stroke="#1a1a1a" stroke-width="1.1" />
<text transform="translate(346.32,427.5) rotate(-45)" font-size="7.5" text-anchor="end" fill="#222" stroke="#222" stroke-width="0.2" >D7</text>
<line x1="353.53" y1="418" x2="353.53" y2="420.6" stroke="#1a1a1a" stroke-width="1.1" />
<text transform="translate(356.93,427.5) rotate(-45)" font-size="7.5" text-anchor="end" fill="#222" stroke="#222" stroke-width="0.2" >D14</text>
<line x1="364.14" y1="418" x2="364.14" y2="420.6" stroke="#1a1a1a" stroke-width="1.1" />
<text transform="translate(367.54,427.5) rotate(-45)" font-size="7.5" text-anchor="end" fill="#222" stroke="#222" stroke-width="0.2" >D21</text>
<line x1="374.75" y1="418" x2="374.75" y2="420.6" stroke="#1a1a1a" stroke-width="1.1" />
<text transform="translate(378.15,427.5) rotate(-45)" font-size="7.5" text-anchor="end" fill="#222" stroke="#222" stroke-width="0.2" >D28</text>
<line x1="385.36" y1="418" x2="385.36" y2="420.6" stroke="#1a1a1a" stroke-width="1.1" />
<text transform="translate(388.76,427.5) rotate(-45)" font-size="7.5" text-anchor="end" fill="#222" stroke="#222" stroke-width="0.2" >M2</text>
<line x1="395.97" y1="418" x2="395.97" y2="420.6" stroke="#1a1a1a" stroke-width="1.1" />
<text transform="translate(399.37,427.5) rotate(-45)" font-size="7.5" text-anchor="end" fill="#222" stroke="#222" stroke-width="0.2" >M3</text>
<line x1="406.58" y1="418" x2="406.58" y2="420.6" stroke="#1a1a1a" stroke-width="1.1" />
<line x1="417.19" y1="418" x2="417.19" y2="420.6" stroke="#1a1a1a" stroke-width="1.1" />
<text transform="translate(420.59,427.5) rotate(-45)" font-size="7.5" text-anchor="end" fill="#222" stroke="#222" stroke-width="0.2" >M6</text>
<line x1="427.8" y1="418" x2="427.8" y2="420.6" stroke="#1a1a1a" stroke-width="1.1" />
<line x1="438.41" y1="418" x2="438.41" y2="420.6" stroke="#1a1a1a" stroke-width="1.1" />
<text transform="translate(441.81,427.5) rotate(-45)" font-size="7.5" text-anchor="end" fill="#222" stroke="#222" stroke-width="0.2" >M9</text>
<line x1="449.02" y1="418" x2="449.02" y2="420.6" stroke="#1a1a1a" stroke-width="1.1" />
<line x1="459.63" y1="418" x2="459.63" y2="420.6" stroke="#1a1a1a" stroke-width="1.1" />
<text transform="translate(463.03,427.5) rotate(-45)" font-size="7.5" text-anchor="end" fill="#222" stroke="#222" stroke-width="0.2" >M12</text>
<line x1="470.24" y1="418" x2="470.24" y2="420.6" stroke="#1a1a1a" stroke-width="1.1" />
<line x1="480.85" y1="418" x2="480.85" y2="420.6" stroke="#1a1a1a" stroke-width="1.1" />
<text transform="translate(484.25,427.5) rotate(-45)" font-size="7.5" text-anchor="end" fill="#222" stroke="#222" stroke-width="0.2" >M18</text>
<line x1="491.46" y1="418" x2="491.46" y2="420.6" stroke="#1a1a1a" stroke-width="1.1" />
<line x1="502.07" y1="418" x2="502.07" y2="420.6" stroke="#1a1a1a" stroke-width="1.1" />
<text transform="translate(505.47,427.5) rotate(-45)" font-size="7.5" text-anchor="end" fill="#222" stroke="#222" stroke-width="0.2" >M24</text>
<text x="326.5" y="448.2" font-size="7" text-anchor="end" fill="#222" stroke="#222" stroke-width="0.2" font-weight="normal" >Number at Risk</text>
<text x="326.5" y="457.2" font-size="7" text-anchor="end" fill="#222" stroke="#222" stroke-width="0.2" font-weight="normal" >N</text>
<text x="374.75" y="448.2" font-size="7" text-anchor="middle" fill="#222" stroke="#222" stroke-width="0.2" font-weight="normal" >38</text>
<text x="374.75" y="457.2" font-size="7" text-anchor="middle" fill="#222" stroke="#222" stroke-width="0.2" font-weight="normal" >31</text>
<text x="385.36" y="448.2" font-size="7" text-anchor="middle" fill="#222" stroke="#222" stroke-width="0.2" font-weight="normal" >37</text>
<text x="385.36" y="457.2" font-size="7" text-anchor="middle" fill="#222" stroke="#222" stroke-width="0.2" font-weight="normal" >17</text>
<text x="395.97" y="448.2" font-size="7" text-anchor="middle" fill="#222" stroke="#222" stroke-width="0.2" font-weight="normal" >36</text>
<text x="395.97" y="457.2" font-size="7" text-anchor="middle" fill="#222" stroke="#222" stroke-width="0.2" font-weight="normal" >18</text>
<text x="417.19" y="448.2" font-size="7" text-anchor="middle" fill="#222" stroke="#222" stroke-width="0.2" font-weight="normal" >23</text>
<text x="417.19" y="457.2" font-size="7" text-anchor="middle" fill="#222" stroke="#222" stroke-width="0.2" font-weight="normal" >15</text>
<text x="438.41" y="448.2" font-size="7" text-anchor="middle" fill="#222" stroke="#222" stroke-width="0.2" font-weight="normal" >20</text>
<text x="438.41" y="457.2" font-size="7" text-anchor="middle" fill="#222" stroke="#222" stroke-width="0.2" font-weight="normal" >4</text>
<text x="459.63" y="448.2" font-size="7" text-anchor="middle" fill="#222" stroke="#222" stroke-width="0.2" font-weight="normal" >17</text>
<text x="459.63" y="457.2" font-size="7" text-anchor="middle" fill="#222" stroke="#222" stroke-width="0.2" font-weight="normal" >10</text>
<text x="480.85" y="448.2" font-size="7" text-anchor="middle" fill="#222" stroke="#222" stroke-width="0.2" font-weight="normal" >14</text>
<text x="480.85" y="457.2" font-size="7" text-anchor="middle" fill="#222" stroke="#222" stroke-width="0.2" font-weight="normal" >6</text>
<text x="502.07" y="448.2" font-size="7" text-anchor="middle" fill="#222" stroke="#222" stroke-width="0.2" font-weight="normal" >3</text>
<text x="502.07" y="457.2" font-size="7" text-anchor="middle" fill="#222" stroke="#222" stroke-width="0.2" font-weight="normal" >2</text>
<line x1="314.1" y1="403.5" x2="509.2" y2="403.5" stroke="#c41e40" stroke-width="1.15" stroke-dasharray="3,1.895"/>
<text x="356.2" y="281.2" font-size="6.8" fill="#222" stroke="#222" stroke-width="0.2"><tspan font-style="italic">p</tspan><tspan dx="2.6" font-size="8.2" stroke-width="0.75">=</tspan><tspan dx="1.3" font-size="6.7" letter-spacing="0.62" stroke-width="0.3">0.5344</tspan></text>
<path d="M318.7,363.3 L324.7,363.3 Q320.9,366.95 324.7,370.6 L318.7,370.6 Q322.5,366.95 318.7,363.3 Z" fill="none" stroke="#1a1a1a" stroke-width="0.9" stroke-linejoin="round"/>
<circle cx="321.7" cy="363.3" r="1.05" fill="#56a3ea"/>
<circle cx="321.7" cy="370.6" r="1.05" fill="#56a3ea"/>
<line x1="342.92" y1="277.5" x2="342.92" y2="342.5" stroke="#333" stroke-width="1.0" />
<circle cx="342.92" cy="277.7" r="1.05" fill="#56a3ea"/>
<circle cx="342.92" cy="307.4" r="1.05" fill="#56a3ea"/>
<circle cx="342.92" cy="342" r="1.05" fill="#56a3ea"/>
<path d="M342.97,349 C342.99,357.67 342.86,391.67 343.12,401 C343.38,410.33 344.02,403.5 344.52,405 C345.02,406.5 345.89,408.5 346.12,410 C346.35,411.5 346.25,412.87 345.92,414 C345.59,415.13 344.42,416.33 344.12,416.8 L341.72,416.8 C341.42,416.33 340.25,415.13 339.92,414 C339.59,412.87 339.49,411.5 339.72,410 C339.95,408.5 340.82,406.5 341.32,405 C341.82,403.5 342.46,410.33 342.72,401 C342.98,391.67 342.84,357.67 342.87,349 Z" fill="none" stroke="#1a1a1a" stroke-width="0.9"/>
<circle cx="342.92" cy="359.6" r="1.05" fill="#56a3ea"/>
<circle cx="342.92" cy="369.3" r="1.05" fill="#56a3ea"/>
<circle cx="342.92" cy="380" r="1.05" fill="#56a3ea"/>
<circle cx="342.92" cy="389.6" r="1.05" fill="#56a3ea"/>
<circle cx="342.92" cy="398" r="1.05" fill="#56a3ea"/>
<circle cx="342.92" cy="401" r="1.05" fill="#56a3ea"/>
<circle cx="342.69" cy="404.15" r="1.05" fill="#56a3ea"/>
<circle cx="342.23" cy="405.69" r="1.05" fill="#56a3ea"/>
<circle cx="343.15" cy="412.08" r="1.05" fill="#56a3ea"/>
<circle cx="343.53" cy="405.14" r="1.05" fill="#56a3ea"/>
<circle cx="342" cy="406.42" r="1.05" fill="#56a3ea"/>
<circle cx="342.98" cy="406.57" r="1.05" fill="#56a3ea"/>
<circle cx="342.59" cy="408.34" r="1.05" fill="#56a3ea"/>
<circle cx="341.7" cy="414.59" r="1.05" fill="#56a3ea"/>
<circle cx="344" cy="412.9" r="1.05" fill="#56a3ea"/>
<circle cx="342.86" cy="404.51" r="1.05" fill="#56a3ea"/>
<circle cx="342.88" cy="411.89" r="1.05" fill="#56a3ea"/>
<circle cx="343.07" cy="407.74" r="1.05" fill="#56a3ea"/>
<circle cx="341.03" cy="412.23" r="1.05" fill="#56a3ea"/>
<circle cx="342.12" cy="411.34" r="1.05" fill="#56a3ea"/>
<circle cx="344.34" cy="415.1" r="1.05" fill="#56a3ea"/>
<circle cx="342.04" cy="409.55" r="1.05" fill="#56a3ea"/>
<circle cx="340.57" cy="410.85" r="1.05" fill="#56a3ea"/>
<circle cx="342.45" cy="405.46" r="1.05" fill="#56a3ea"/>
<circle cx="342.27" cy="414.42" r="1.05" fill="#56a3ea"/>
<circle cx="342.88" cy="407.39" r="1.05" fill="#56a3ea"/>
<circle cx="342.38" cy="404.46" r="1.05" fill="#56a3ea"/>
<circle cx="342.36" cy="413.36" r="1.05" fill="#56a3ea"/>
<circle cx="343.12" cy="408.25" r="1.05" fill="#56a3ea"/>
<circle cx="341.83" cy="406.15" r="1.05" fill="#56a3ea"/>
<line x1="364.14" y1="326.7" x2="364.14" y2="342.5" stroke="#333" stroke-width="1.0" />
<circle cx="364.14" cy="326.9" r="1.05" fill="#56a3ea"/>
<circle cx="364.14" cy="342" r="1.05" fill="#56a3ea"/>
<path d="M353.58,372 C353.6,377.33 353.47,398 353.73,404 C353.99,410 354.68,406.67 355.13,408 C355.58,409.33 356.26,410.87 356.43,412 C356.6,413.13 356.43,414 356.13,414.8 C355.83,415.6 354.88,416.47 354.63,416.8 L352.43,416.8 C352.18,416.47 351.23,415.6 350.93,414.8 C350.63,414 350.46,413.13 350.63,412 C350.8,410.87 351.48,409.33 351.93,408 C352.38,406.67 353.07,410 353.33,404 C353.59,398 353.45,377.33 353.48,372 Z" fill="none" stroke="#1a1a1a" stroke-width="0.9"/>
<circle cx="353.53" cy="372" r="1.05" fill="#56a3ea"/>
<circle cx="353.53" cy="378" r="1.05" fill="#56a3ea"/>
<circle cx="353.53" cy="384" r="1.05" fill="#56a3ea"/>
<circle cx="353.53" cy="390" r="1.05" fill="#56a3ea"/>
<circle cx="353.53" cy="396" r="1.05" fill="#56a3ea"/>
<circle cx="353.53" cy="400" r="1.05" fill="#56a3ea"/>
<circle cx="353.53" cy="404" r="1.05" fill="#56a3ea"/>
<circle cx="353.13" cy="406.79" r="1.05" fill="#56a3ea"/>
<circle cx="352.67" cy="411.06" r="1.05" fill="#56a3ea"/>
<circle cx="353.66" cy="414.6" r="1.05" fill="#56a3ea"/>
<circle cx="354.59" cy="409.78" r="1.05" fill="#56a3ea"/>
<circle cx="355.13" cy="414.6" r="1.05" fill="#56a3ea"/>
<circle cx="354.13" cy="406.83" r="1.05" fill="#56a3ea"/>
<circle cx="353.54" cy="407.63" r="1.05" fill="#56a3ea"/>
<circle cx="352.53" cy="409.6" r="1.05" fill="#56a3ea"/>
<circle cx="353.1" cy="413.53" r="1.05" fill="#56a3ea"/>
<circle cx="353.73" cy="411.99" r="1.05" fill="#56a3ea"/>
<circle cx="352.9" cy="410.35" r="1.05" fill="#56a3ea"/>
<circle cx="353.58" cy="410.54" r="1.05" fill="#56a3ea"/>
<circle cx="353.34" cy="412.75" r="1.05" fill="#56a3ea"/>
<circle cx="352.5" cy="407.97" r="1.05" fill="#56a3ea"/>
<circle cx="352.47" cy="413.02" r="1.05" fill="#56a3ea"/>
<circle cx="353.56" cy="414.8" r="1.05" fill="#56a3ea"/>
<circle cx="354.16" cy="408.3" r="1.05" fill="#56a3ea"/>
<circle cx="353.07" cy="414.67" r="1.05" fill="#56a3ea"/>
<path d="M364.19,349 C364.23,357.5 364.18,390.83 364.44,400 C364.7,409.17 365.22,402.17 365.74,404 C366.26,405.83 367.29,409.25 367.54,411 C367.79,412.75 367.61,413.53 367.24,414.5 C366.87,415.47 365.66,416.42 365.34,416.8 L362.94,416.8 C362.62,416.42 361.41,415.47 361.04,414.5 C360.67,413.53 360.49,412.75 360.74,411 C360.99,409.25 362.02,405.83 362.54,404 C363.06,402.17 363.58,409.17 363.84,400 C364.1,390.83 364.05,357.5 364.09,349 Z" fill="none" stroke="#1a1a1a" stroke-width="0.9"/>
<circle cx="364.14" cy="354" r="1.05" fill="#56a3ea"/>
<circle cx="364.14" cy="362" r="1.05" fill="#56a3ea"/>
<circle cx="364.14" cy="370" r="1.05" fill="#56a3ea"/>
<circle cx="364.14" cy="380" r="1.05" fill="#56a3ea"/>
<circle cx="364.14" cy="388" r="1.05" fill="#56a3ea"/>
<circle cx="364.14" cy="394" r="1.05" fill="#56a3ea"/>
<circle cx="364.14" cy="398" r="1.05" fill="#56a3ea"/>
<circle cx="364.14" cy="401" r="1.05" fill="#56a3ea"/>
<circle cx="365.64" cy="410.53" r="1.05" fill="#56a3ea"/>
<circle cx="366.2" cy="411.6" r="1.05" fill="#56a3ea"/>
<circle cx="362.82" cy="411.6" r="1.05" fill="#56a3ea"/>
<circle cx="364.95" cy="409.97" r="1.05" fill="#56a3ea"/>
<circle cx="364.97" cy="406.98" r="1.05" fill="#56a3ea"/>
<circle cx="362.92" cy="411.02" r="1.05" fill="#56a3ea"/>
<circle cx="365.26" cy="415.25" r="1.05" fill="#56a3ea"/>
<circle cx="364.41" cy="406.75" r="1.05" fill="#56a3ea"/>
<circle cx="364.1" cy="404.63" r="1.05" fill="#56a3ea"/>
<circle cx="364.28" cy="407.02" r="1.05" fill="#56a3ea"/>
<circle cx="364.07" cy="412.87" r="1.05" fill="#56a3ea"/>
<circle cx="363.87" cy="404.58" r="1.05" fill="#56a3ea"/>
<circle cx="364.44" cy="405.68" r="1.05" fill="#56a3ea"/>
<circle cx="363.54" cy="409.25" r="1.05" fill="#56a3ea"/>
<circle cx="364.33" cy="407.07" r="1.05" fill="#56a3ea"/>
<circle cx="366.46" cy="413.3" r="1.05" fill="#56a3ea"/>
<circle cx="362.6" cy="410.16" r="1.05" fill="#56a3ea"/>
<circle cx="363.81" cy="412.27" r="1.05" fill="#56a3ea"/>
<circle cx="364.02" cy="403.44" r="1.05" fill="#56a3ea"/>
<circle cx="364.73" cy="409.11" r="1.05" fill="#56a3ea"/>
<circle cx="363.13" cy="409.36" r="1.05" fill="#56a3ea"/>
<circle cx="363.12" cy="407.29" r="1.05" fill="#56a3ea"/>
<circle cx="374.75" cy="342.3" r="1.05" fill="#56a3ea"/>
<circle cx="385.36" cy="342.3" r="1.05" fill="#56a3ea"/>
<circle cx="395.97" cy="342.3" r="1.05" fill="#56a3ea"/>
<path d="M374.8,349 C374.88,353.33 375.09,366.67 375.25,375 C375.41,383.33 375.47,394.17 375.75,399 C376.03,403.83 376.52,402.17 376.95,404 C377.38,405.83 378.18,408.33 378.35,410 C378.52,411.67 378.32,412.87 377.95,414 C377.58,415.13 376.45,416.33 376.15,416.8 L373.35,416.8 C373.05,416.33 371.92,415.13 371.55,414 C371.18,412.87 370.98,411.67 371.15,410 C371.32,408.33 372.12,405.83 372.55,404 C372.98,402.17 373.47,403.83 373.75,399 C374.03,394.17 374.09,383.33 374.25,375 C374.41,366.67 374.62,353.33 374.7,349 Z" fill="none" stroke="#1a1a1a" stroke-width="0.9"/>
<circle cx="374.75" cy="352" r="1.05" fill="#56a3ea"/>
<circle cx="374.75" cy="356" r="1.05" fill="#56a3ea"/>
<circle cx="374.75" cy="360" r="1.05" fill="#56a3ea"/>
<circle cx="374.75" cy="365" r="1.05" fill="#56a3ea"/>
<circle cx="374.75" cy="370" r="1.05" fill="#56a3ea"/>
<circle cx="374.75" cy="375" r="1.05" fill="#56a3ea"/>
<circle cx="374.75" cy="380" r="1.05" fill="#56a3ea"/>
<circle cx="374.75" cy="385" r="1.05" fill="#56a3ea"/>
<circle cx="374.75" cy="390" r="1.05" fill="#56a3ea"/>
<circle cx="374.75" cy="395" r="1.05" fill="#56a3ea"/>
<circle cx="374.75" cy="399" r="1.05" fill="#56a3ea"/>
<circle cx="374.59" cy="409.04" r="1.05" fill="#56a3ea"/>
<circle cx="376.03" cy="414.41" r="1.05" fill="#56a3ea"/>
<circle cx="375.49" cy="405.65" r="1.05" fill="#56a3ea"/>
<circle cx="374.8" cy="405.17" r="1.05" fill="#56a3ea"/>
<circle cx="374.37" cy="402.31" r="1.05" fill="#56a3ea"/>
<circle cx="375.69" cy="413.75" r="1.05" fill="#56a3ea"/>
<circle cx="375.08" cy="410.68" r="1.05" fill="#56a3ea"/>
<circle cx="375.28" cy="409.14" r="1.05" fill="#56a3ea"/>
<circle cx="375.34" cy="407.44" r="1.05" fill="#56a3ea"/>
<circle cx="375.22" cy="412.38" r="1.05" fill="#56a3ea"/>
<circle cx="375.97" cy="413.03" r="1.05" fill="#56a3ea"/>
<circle cx="374.13" cy="414.15" r="1.05" fill="#56a3ea"/>
<circle cx="374.39" cy="407.39" r="1.05" fill="#56a3ea"/>
<circle cx="374.33" cy="404.55" r="1.05" fill="#56a3ea"/>
<circle cx="374.99" cy="402.59" r="1.05" fill="#56a3ea"/>
<circle cx="374.08" cy="415.34" r="1.05" fill="#56a3ea"/>
<circle cx="372.69" cy="410.26" r="1.05" fill="#56a3ea"/>
<circle cx="374.81" cy="406.11" r="1.05" fill="#56a3ea"/>
<circle cx="373.3" cy="406.2" r="1.05" fill="#56a3ea"/>
<circle cx="376.2" cy="410.34" r="1.05" fill="#56a3ea"/>
<circle cx="374.97" cy="405.1" r="1.05" fill="#56a3ea"/>
<circle cx="373.45" cy="409.32" r="1.05" fill="#56a3ea"/>
<path d="M385.41,349 C385.42,356.25 385.29,384.83 385.46,392.5 C385.64,400.17 386.21,393.75 386.46,395 C386.71,396.25 386.71,398.33 386.96,400 C387.21,401.67 387.71,403.33 387.96,405 C388.21,406.67 388.43,408.5 388.46,410 C388.49,411.5 388.49,412.87 388.16,414 C387.83,415.13 386.74,416.33 386.46,416.8 L384.26,416.8 C383.98,416.33 382.89,415.13 382.56,414 C382.23,412.87 382.23,411.5 382.26,410 C382.29,408.5 382.51,406.67 382.76,405 C383.01,403.33 383.51,401.67 383.76,400 C384.01,398.33 384.01,396.25 384.26,395 C384.51,393.75 385.08,400.17 385.26,392.5 C385.44,384.83 385.3,356.25 385.31,349 Z" fill="none" stroke="#1a1a1a" stroke-width="0.9"/>
<circle cx="385.36" cy="362" r="1.05" fill="#56a3ea"/>
<circle cx="385.36" cy="395" r="1.05" fill="#56a3ea"/>
<circle cx="385.36" cy="397" r="1.05" fill="#56a3ea"/>
<circle cx="385.36" cy="400" r="1.05" fill="#56a3ea"/>
<circle cx="385.08" cy="407.53" r="1.05" fill="#56a3ea"/>
<circle cx="384.94" cy="407.88" r="1.05" fill="#56a3ea"/>
<circle cx="385.57" cy="402.26" r="1.05" fill="#56a3ea"/>
<circle cx="387.71" cy="411.41" r="1.05" fill="#56a3ea"/>
<circle cx="383.71" cy="410.86" r="1.05" fill="#56a3ea"/>
<circle cx="385.51" cy="397.99" r="1.05" fill="#56a3ea"/>
<circle cx="386.22" cy="400.15" r="1.05" fill="#56a3ea"/>
<circle cx="385.77" cy="400.09" r="1.05" fill="#56a3ea"/>
<circle cx="385.64" cy="406.51" r="1.05" fill="#56a3ea"/>
<circle cx="385.49" cy="406.67" r="1.05" fill="#56a3ea"/>
<circle cx="384.64" cy="409.88" r="1.05" fill="#56a3ea"/>
<circle cx="386.35" cy="413.38" r="1.05" fill="#56a3ea"/>
<circle cx="385.29" cy="408.19" r="1.05" fill="#56a3ea"/>
<circle cx="385.69" cy="400.37" r="1.05" fill="#56a3ea"/>
<circle cx="385.9" cy="397.21" r="1.05" fill="#56a3ea"/>
<circle cx="385.48" cy="411.45" r="1.05" fill="#56a3ea"/>
<circle cx="385.27" cy="398.03" r="1.05" fill="#56a3ea"/>
<circle cx="386.1" cy="407.36" r="1.05" fill="#56a3ea"/>
<circle cx="386.83" cy="414.28" r="1.05" fill="#56a3ea"/>
<circle cx="384.82" cy="407.81" r="1.05" fill="#56a3ea"/>
<path d="M396.02,349 C396.04,357.5 395.91,390.83 396.17,400 C396.43,409.17 397.09,402.33 397.57,404 C398.05,405.67 398.87,408.33 399.07,410 C399.27,411.67 399.1,412.87 398.77,414 C398.44,415.13 397.35,416.33 397.07,416.8 L394.87,416.8 C394.59,416.33 393.5,415.13 393.17,414 C392.84,412.87 392.67,411.67 392.87,410 C393.07,408.33 393.89,405.67 394.37,404 C394.85,402.33 395.51,409.17 395.77,400 C396.03,390.83 395.89,357.5 395.92,349 Z" fill="none" stroke="#1a1a1a" stroke-width="0.9"/>
<circle cx="395.97" cy="364" r="1.05" fill="#56a3ea"/>
<circle cx="395.97" cy="373" r="1.05" fill="#56a3ea"/>
<circle cx="395.97" cy="392" r="1.05" fill="#56a3ea"/>
<circle cx="395.97" cy="402" r="1.05" fill="#56a3ea"/>
<circle cx="394.5" cy="413.43" r="1.05" fill="#56a3ea"/>
<circle cx="395.76" cy="406.27" r="1.05" fill="#56a3ea"/>
<circle cx="395.57" cy="410.16" r="1.05" fill="#56a3ea"/>
<circle cx="396.96" cy="407.56" r="1.05" fill="#56a3ea"/>
<circle cx="396.27" cy="404.63" r="1.05" fill="#56a3ea"/>
<circle cx="395.13" cy="405.22" r="1.05" fill="#56a3ea"/>
<circle cx="395.33" cy="408.51" r="1.05" fill="#56a3ea"/>
<circle cx="395.58" cy="415.4" r="1.05" fill="#56a3ea"/>
<circle cx="398.21" cy="411.58" r="1.05" fill="#56a3ea"/>
<circle cx="396.14" cy="406.1" r="1.05" fill="#56a3ea"/>
<circle cx="396.62" cy="406.16" r="1.05" fill="#56a3ea"/>
<circle cx="394.98" cy="411.25" r="1.05" fill="#56a3ea"/>
<circle cx="397.03" cy="412.61" r="1.05" fill="#56a3ea"/>
<circle cx="395.99" cy="412.11" r="1.05" fill="#56a3ea"/>
<circle cx="394.05" cy="413.46" r="1.05" fill="#56a3ea"/>
<circle cx="395.45" cy="406.65" r="1.05" fill="#56a3ea"/>
<circle cx="395.46" cy="410.39" r="1.05" fill="#56a3ea"/>
<circle cx="394.96" cy="406.96" r="1.05" fill="#56a3ea"/>
<circle cx="396.36" cy="415.94" r="1.05" fill="#56a3ea"/>
<circle cx="394.64" cy="412.91" r="1.05" fill="#56a3ea"/>
<line x1="417.19" y1="342.2" x2="417.19" y2="349" stroke="#333" stroke-width="0" />
<circle cx="417.19" cy="342.2" r="1.05" fill="#56a3ea"/>
<path d="M417.24,349.5 C417.28,351.92 417.25,360.25 417.49,364 C417.73,367.75 418.51,369.67 418.69,372 C418.87,374.33 418.77,375.67 418.59,378 C418.41,380.33 417.62,383 417.59,386 C417.56,389 418.02,393 418.39,396 C418.76,399 419.42,401.67 419.79,404 C420.16,406.33 420.52,408.33 420.59,410 C420.66,411.67 420.49,413 420.19,414 C419.89,415 419.02,415.67 418.79,416 L415.59,416 C415.36,415.67 414.49,415 414.19,414 C413.89,413 413.72,411.67 413.79,410 C413.86,408.33 414.22,406.33 414.59,404 C414.96,401.67 415.62,399 415.99,396 C416.36,393 416.82,389 416.79,386 C416.76,383 415.97,380.33 415.79,378 C415.61,375.67 415.51,374.33 415.69,372 C415.87,369.67 416.65,367.75 416.89,364 C417.13,360.25 417.1,351.92 417.14,349.5 Z" fill="none" stroke="#1a1a1a" stroke-width="0.9"/>
<circle cx="417.19" cy="372" r="1.05" fill="#56a3ea"/>
<circle cx="417.19" cy="378" r="1.05" fill="#56a3ea"/>
<circle cx="417.19" cy="397" r="1.05" fill="#56a3ea"/>
<circle cx="417.19" cy="408" r="1.05" fill="#56a3ea"/>
<circle cx="417.19" cy="412" r="1.05" fill="#56a3ea"/>
<circle cx="416.6" cy="412.64" r="1.05" fill="#56a3ea"/>
<circle cx="417.78" cy="414.35" r="1.05" fill="#56a3ea"/>
<circle cx="417.42" cy="410.91" r="1.05" fill="#56a3ea"/>
<circle cx="417.97" cy="408.16" r="1.05" fill="#56a3ea"/>
<circle cx="416.71" cy="414.39" r="1.05" fill="#56a3ea"/>
<circle cx="417.92" cy="409.04" r="1.05" fill="#56a3ea"/>
<path d="M434.91,383.3 L441.91,383.3 Q436.11,398.6 441.91,412.3 L434.91,412.3 Q440.71,398.6 434.91,383.3 Z" fill="none" stroke="#1a1a1a" stroke-width="0.9" stroke-linejoin="round"/>
<circle cx="438.41" cy="412" r="1.05" fill="#56a3ea"/>
<circle cx="435.91" cy="383.5" r="1.05" fill="#56a3ea"/>
<circle cx="440.91" cy="383.5" r="1.05" fill="#56a3ea"/>
<path d="M459.83,370.5 C460.03,371.75 460.63,375.42 461.03,378 C461.43,380.58 462.1,383.67 462.23,386 C462.36,388.33 462.06,390.17 461.83,392 C461.6,393.83 460.8,395 460.83,397 C460.86,399 461.66,401.83 462.03,404 C462.4,406.17 462.9,408.1 463.03,410 C463.16,411.9 462.86,414.5 462.83,415.4 L456.43,415.4 C456.4,414.5 456.1,411.9 456.23,410 C456.36,408.1 456.86,406.17 457.23,404 C457.6,401.83 458.4,399 458.43,397 C458.46,395 457.66,393.83 457.43,392 C457.2,390.17 456.9,388.33 457.03,386 C457.16,383.67 457.83,380.58 458.23,378 C458.63,375.42 459.23,371.75 459.43,370.5 Z" fill="none" stroke="#1a1a1a" stroke-width="0.9"/>
<circle cx="459.63" cy="370.5" r="1.05" fill="#56a3ea"/>
<circle cx="459.63" cy="385" r="1.05" fill="#56a3ea"/>
<circle cx="459.63" cy="388" r="1.05" fill="#56a3ea"/>
<circle cx="459.63" cy="390" r="1.05" fill="#56a3ea"/>
<circle cx="459.63" cy="408" r="1.05" fill="#56a3ea"/>
<circle cx="459.63" cy="414" r="1.05" fill="#56a3ea"/>
<circle cx="459.16" cy="406.56" r="1.05" fill="#56a3ea"/>
<circle cx="459.34" cy="410.86" r="1.05" fill="#56a3ea"/>
<circle cx="458.3" cy="406.18" r="1.05" fill="#56a3ea"/>
<circle cx="459.63" cy="404.9" r="1.05" fill="#56a3ea"/>
<circle cx="457.03" cy="386" r="1.05" fill="#56a3ea"/>
<circle cx="462.23" cy="386" r="1.05" fill="#56a3ea"/>
<path d="M477.95,393.7 L483.75,393.7 Q479.15,403 483.75,415.2 L477.95,415.2 Q482.55,403 477.95,393.7 Z" fill="none" stroke="#1a1a1a" stroke-width="0.9" stroke-linejoin="round"/>
<circle cx="480.85" cy="393.8" r="1.05" fill="#56a3ea"/>
<circle cx="480.85" cy="403" r="1.05" fill="#56a3ea"/>
<circle cx="480.85" cy="413" r="1.05" fill="#56a3ea"/>
<circle cx="478.85" cy="414.3" r="1.05" fill="#56a3ea"/>
<circle cx="482.85" cy="414.3" r="1.05" fill="#56a3ea"/>
<path d="M498.97,396.2 L505.17,396.2 Q500.57,400.8 505.17,405.4 L498.97,405.4 Q503.57,400.8 498.97,396.2 Z" fill="none" stroke="#1a1a1a" stroke-width="0.9" stroke-linejoin="round"/>
<circle cx="502.07" cy="396.2" r="1.05" fill="#56a3ea"/>
<circle cx="502.07" cy="405.4" r="1.05" fill="#56a3ea"/>
</svg>
</body></html>
